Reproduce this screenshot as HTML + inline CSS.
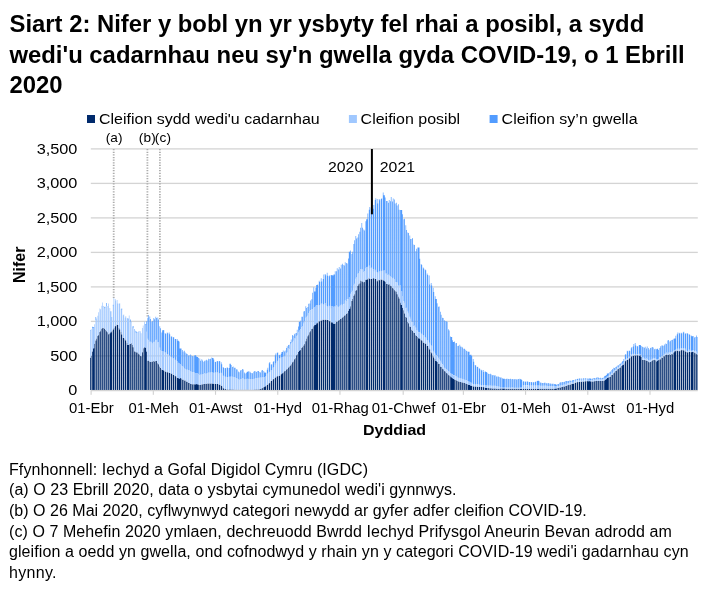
<!DOCTYPE html>
<html lang="cy"><head><meta charset="utf-8"><title>Siart 2</title>
<style>
html,body{margin:0;padding:0;background:#fff;}
body{width:712px;height:590px;overflow:hidden;position:relative;font-family:"Liberation Sans",Arial,sans-serif;color:#000;}
h1{position:absolute;left:9.5px;top:9px;margin:0;font-size:23.85px;line-height:30.5px;font-weight:bold;width:702px;letter-spacing:0;white-space:nowrap;}
svg{position:absolute;left:0;top:0;}
svg text{font-family:"Liberation Sans",Arial,sans-serif;font-size:16px;fill:#000;}
.notes{position:absolute;left:9px;top:459.7px;width:703px;font-size:16px;line-height:20.6px;margin:0;white-space:nowrap;}
.notes p{margin:0;position:absolute;left:0;}
</style></head><body>
<h1>Siart 2: Nifer y bobl yn yr ysbyty fel rhai a posibl, a sydd<br>wedi'u cadarnhau neu sy'n gwella gyda COVID-19, o 1 Ebrill<br>2020</h1>
<svg width="712" height="590" viewBox="0 0 712 590">
<g>
<rect x="90.8" y="355.25" width="607" height="1.3" fill="#d4d4d4"/>
<rect x="90.8" y="320.75" width="607" height="1.3" fill="#d4d4d4"/>
<rect x="90.8" y="286.25" width="607" height="1.3" fill="#d4d4d4"/>
<rect x="90.8" y="251.75" width="607" height="1.3" fill="#d4d4d4"/>
<rect x="90.8" y="217.25" width="607" height="1.3" fill="#d4d4d4"/>
<rect x="90.8" y="182.75" width="607" height="1.3" fill="#d4d4d4"/>
<rect x="90.8" y="148.25" width="607" height="1.3" fill="#d4d4d4"/>

</g>
<g>
<path fill="#002a6c" d="M90.167 357.8v32.2h0.667v-32.2zM90.833 355.7v34.3h0.667v-34.3zM92.167 351.6v38.4h0.667v-38.4zM92.833 348.2v41.8h1.333v-41.8zM94.167 343.8v46.2h0.667v-46.2zM95.500 340.4v49.6h0.667v-49.6zM96.167 338.6v51.4h0.667v-51.4zM97.500 336.1v53.9h0.667v-53.9zM98.167 334.9v55.1h0.667v-55.1zM99.500 332.1v57.9h0.667v-57.9zM100.167 330.6v59.4h0.667v-59.4zM101.500 328.8v61.2h0.667v-61.2zM102.167 328.0v62.0h0.667v-62.0zM103.500 328.0v62.0h0.667v-62.0zM104.167 328.7v61.3h0.667v-61.3zM105.500 330.0v60.0h0.667v-60.0zM106.167 331.2v58.8h0.667v-58.8zM107.500 332.3v57.7h0.667v-57.7zM108.167 334.2v55.8h0.667v-55.8zM109.500 333.6v56.4h0.667v-56.4zM110.167 332.2v57.8h1.333v-57.8zM111.500 330.8v59.2h0.667v-59.2zM112.833 329.4v60.6h0.667v-60.6zM113.500 328.1v61.9h0.667v-61.9zM114.833 326.2v63.8h0.667v-63.8zM115.500 325.6v64.4h0.667v-64.4zM116.833 324.4v65.6h0.667v-65.6zM117.500 324.9v65.1h0.667v-65.1zM118.833 328.0v62.0h0.667v-62.0zM119.500 329.4v60.6h0.667v-60.6zM120.833 332.0v58.0h0.667v-58.0zM121.500 334.5v55.5h0.667v-55.5zM122.833 337.7v52.3h0.667v-52.3zM123.500 338.1v51.9h0.667v-51.9zM124.833 339.3v50.7h0.667v-50.7zM125.500 340.6v49.4h0.667v-49.4zM126.833 342.7v47.3h0.667v-47.3zM127.500 345.0v45.0h1.333v-45.0zM128.833 344.2v45.8h0.667v-45.8zM130.167 344.1v45.9h0.667v-45.9zM130.833 343.2v46.8h0.667v-46.8zM132.167 345.1v44.9h0.667v-44.9zM132.833 347.2v42.8h0.667v-42.8zM134.167 351.2v38.8h0.667v-38.8zM134.833 351.7v38.3h0.667v-38.3zM136.167 352.2v37.8h0.667v-37.8zM136.833 352.6v37.4h0.667v-37.4zM138.167 353.4v36.6h0.667v-36.6zM138.833 354.4v35.6h0.667v-35.6zM140.167 355.8v34.2h0.667v-34.2zM140.833 356.3v33.7h0.667v-33.7zM142.167 352.3v37.7h0.667v-37.7zM142.833 348.2v41.8h0.667v-41.8zM144.167 347.2v42.8h0.667v-42.8zM144.833 347.4v42.6h1.333v-42.6zM146.167 351.4v38.6h0.667v-38.6zM147.500 360.8v29.2h0.667v-29.2zM148.167 360.5v29.5h0.667v-29.5zM149.500 361.6v28.4h0.667v-28.4zM150.167 362.0v28.0h0.667v-28.0zM151.500 361.7v28.3h0.667v-28.3zM152.167 361.4v28.6h0.667v-28.6zM153.500 361.0v29.0h0.667v-29.0zM154.167 361.4v28.6h0.667v-28.6zM155.500 360.9v29.1h0.667v-29.1zM156.167 361.0v29.0h0.667v-29.0zM157.500 363.3v26.7h0.667v-26.7zM158.167 364.2v25.8h0.667v-25.8zM159.500 366.5v23.5h0.667v-23.5zM160.167 367.9v22.1h0.667v-22.1zM161.500 369.5v20.5h0.667v-20.5zM162.167 370.0v20.0h1.333v-20.0zM163.500 370.4v19.6h0.667v-19.6zM164.833 371.2v18.8h0.667v-18.8zM165.500 371.8v18.2h0.667v-18.2zM166.833 372.2v17.8h0.667v-17.8zM167.500 372.3v17.7h0.667v-17.7zM168.833 372.7v17.3h0.667v-17.3zM169.500 372.9v17.1h0.667v-17.1zM170.833 373.6v16.4h0.667v-16.4zM171.500 373.5v16.5h0.667v-16.5zM172.833 374.7v15.3h0.667v-15.3zM173.500 374.9v15.1h0.667v-15.1zM174.833 375.9v14.1h0.667v-14.1zM175.500 376.3v13.7h0.667v-13.7zM176.833 377.4v12.6h0.667v-12.6zM177.500 378.0v12.0h1.333v-12.0zM178.833 378.9v11.1h0.667v-11.1zM179.500 378.1v11.9h1.333v-11.9zM180.833 378.6v11.4h0.667v-11.4zM182.167 379.4v10.6h0.667v-10.6zM182.833 379.8v10.2h0.667v-10.2zM184.167 380.4v9.6h0.667v-9.6zM184.833 380.6v9.4h0.667v-9.4zM186.167 381.5v8.5h0.667v-8.5zM186.833 381.8v8.2h0.667v-8.2zM188.167 382.7v7.3h0.667v-7.3zM188.833 383.1v6.9h0.667v-6.9zM190.167 383.8v6.2h0.667v-6.2zM190.833 383.9v6.1h0.667v-6.1zM192.167 384.2v5.8h0.667v-5.8zM192.833 384.3v5.7h0.667v-5.7zM194.167 384.3v5.7h0.667v-5.7zM194.833 384.2v5.8h1.333v-5.8zM196.167 384.1v5.9h0.667v-5.9zM196.833 384.3v5.7h1.333v-5.7zM198.167 384.5v5.5h0.667v-5.5zM199.500 384.9v5.1h0.667v-5.1zM200.167 384.8v5.2h0.667v-5.2zM201.500 384.5v5.5h0.667v-5.5zM202.167 384.3v5.7h0.667v-5.7zM203.500 384.0v6.0h0.667v-6.0zM204.167 383.9v6.1h0.667v-6.1zM205.500 383.8v6.2h0.667v-6.2zM206.167 383.7v6.3h0.667v-6.3zM207.500 383.6v6.4h0.667v-6.4zM208.167 383.6v6.4h0.667v-6.4zM209.500 383.5v6.5h0.667v-6.5zM210.167 383.5v6.5h0.667v-6.5zM211.500 383.6v6.4h0.667v-6.4zM212.167 383.5v6.5h1.333v-6.5zM213.500 383.7v6.3h0.667v-6.3zM214.833 383.7v6.3h0.667v-6.3zM215.500 383.9v6.1h0.667v-6.1zM216.833 383.9v6.1h0.667v-6.1zM217.500 384.0v6.0h0.667v-6.0zM218.833 384.5v5.5h0.667v-5.5zM219.500 384.6v5.4h0.667v-5.4zM220.833 385.3v4.7h0.667v-4.7zM221.500 386.0v4.0h0.667v-4.0zM222.833 387.5v2.5h0.667v-2.5zM223.500 388.4v1.6h0.667v-1.6zM224.833 389.1v0.9h0.667v-0.9zM225.500 389.2v0.8h0.667v-0.8zM226.833 389.4v0.6h0.667v-0.6zM227.500 389.5v0.5h0.667v-0.5zM228.833 389.5v0.5h0.667v-0.5zM229.500 389.5v0.5h1.333v-0.5zM230.833 389.6v0.4h0.667v-0.4zM232.167 389.6v0.4h0.667v-0.4zM232.833 389.6v0.4h0.667v-0.4zM234.167 389.7v0.3h0.667v-0.3zM234.833 389.7v0.3h0.667v-0.3zM236.167 389.7v0.3h0.667v-0.3zM236.833 389.7v0.3h0.667v-0.3zM238.167 389.7v0.3h0.667v-0.3zM238.833 389.7v0.3h0.667v-0.3zM240.167 389.7v0.3h0.667v-0.3zM240.833 389.7v0.3h0.667v-0.3zM242.167 389.7v0.3h0.667v-0.3zM242.833 389.7v0.3h0.667v-0.3zM244.167 389.7v0.3h0.667v-0.3zM244.833 389.7v0.3h0.667v-0.3zM246.167 389.7v0.3h0.667v-0.3zM246.833 389.7v0.3h1.333v-0.3zM248.167 389.7v0.3h0.667v-0.3zM249.500 389.7v0.3h0.667v-0.3zM250.167 389.7v0.3h0.667v-0.3zM251.500 389.7v0.3h0.667v-0.3zM252.167 389.7v0.3h0.667v-0.3zM253.500 389.7v0.3h0.667v-0.3zM254.167 389.6v0.4h0.667v-0.4zM255.500 389.6v0.4h0.667v-0.4zM256.167 389.5v0.5h0.667v-0.5zM257.500 389.5v0.5h0.667v-0.5zM258.167 389.4v0.6h0.667v-0.6zM259.500 389.2v0.8h0.667v-0.8zM260.167 389.1v0.9h0.667v-0.9zM261.500 388.5v1.5h0.667v-1.5zM262.167 388.1v1.9h0.667v-1.9zM263.500 387.3v2.7h0.667v-2.7zM264.167 386.5v3.5h1.333v-3.5zM265.500 385.9v4.1h0.667v-4.1zM266.833 384.9v5.1h0.667v-5.1zM267.500 384.3v5.7h0.667v-5.7zM268.833 383.3v6.7h0.667v-6.7zM269.500 382.5v7.5h0.667v-7.5zM270.833 381.1v8.9h0.667v-8.9zM271.500 380.6v9.4h0.667v-9.4zM272.833 379.3v10.7h0.667v-10.7zM273.500 378.7v11.3h0.667v-11.3zM274.833 377.7v12.3h0.667v-12.3zM275.500 377.1v12.9h0.667v-12.9zM276.833 376.3v13.7h0.667v-13.7zM277.500 376.2v13.8h0.667v-13.8zM278.833 375.8v14.2h0.667v-14.2zM279.500 375.5v14.5h0.667v-14.5zM280.833 374.3v15.7h0.667v-15.7zM281.500 373.2v16.8h1.333v-16.8zM282.833 372.4v17.6h0.667v-17.6zM284.167 371.2v18.8h0.667v-18.8zM284.833 371.1v18.9h0.667v-18.9zM286.167 369.6v20.4h0.667v-20.4zM286.833 369.1v20.9h0.667v-20.9zM288.167 367.4v22.6h0.667v-22.6zM288.833 366.4v23.6h0.667v-23.6zM290.167 365.5v24.5h0.667v-24.5zM290.833 364.3v25.7h0.667v-25.7zM292.167 362.3v27.7h0.667v-27.7zM292.833 361.5v28.5h0.667v-28.5zM294.167 359.2v30.8h0.667v-30.8zM294.833 358.2v31.8h0.667v-31.8zM296.167 355.2v34.8h0.667v-34.8zM296.833 354.3v35.7h0.667v-35.7zM298.167 352.1v37.9h0.667v-37.9zM298.833 350.4v39.6h1.333v-39.6zM300.167 349.9v40.1h0.667v-40.1zM301.500 348.0v42.0h0.667v-42.0zM302.167 346.7v43.3h0.667v-43.3zM303.500 345.5v44.5h0.667v-44.5zM304.167 344.1v45.9h0.667v-45.9zM305.500 341.3v48.7h0.667v-48.7zM306.167 338.5v51.5h0.667v-51.5zM307.500 336.3v53.7h0.667v-53.7zM308.167 334.6v55.4h0.667v-55.4zM309.500 332.2v57.8h0.667v-57.8zM310.167 330.7v59.3h0.667v-59.3zM311.500 328.9v61.1h0.667v-61.1zM312.167 328.4v61.6h0.667v-61.6zM313.500 326.2v63.8h0.667v-63.8zM314.167 324.7v65.3h1.333v-65.3zM315.500 324.6v65.4h0.667v-65.4zM316.167 323.2v66.8h1.333v-66.8zM317.500 322.2v67.8h0.667v-67.8zM318.833 321.4v68.6h0.667v-68.6zM319.500 320.7v69.3h0.667v-69.3zM320.833 320.7v69.3h0.667v-69.3zM321.500 319.9v70.1h0.667v-70.1zM322.833 319.6v70.4h0.667v-70.4zM323.500 319.8v70.2h0.667v-70.2zM324.833 319.8v70.2h0.667v-70.2zM325.500 319.6v70.4h0.667v-70.4zM326.833 320.0v70.0h0.667v-70.0zM327.500 319.9v70.1h0.667v-70.1zM328.833 320.6v69.4h0.667v-69.4zM329.500 321.3v68.7h0.667v-68.7zM330.833 322.3v67.7h0.667v-67.7zM331.500 322.2v67.8h1.333v-67.8zM332.833 323.3v66.7h0.667v-66.7zM333.500 323.8v66.2h1.333v-66.2zM334.833 323.4v66.6h0.667v-66.6zM336.167 321.6v68.4h0.667v-68.4zM336.833 321.7v68.3h0.667v-68.3zM338.167 320.4v69.6h0.667v-69.6zM338.833 320.0v70.0h0.667v-70.0zM340.167 319.1v70.9h0.667v-70.9zM340.833 318.4v71.6h0.667v-71.6zM342.167 317.6v72.4h0.667v-72.4zM342.833 316.7v73.3h0.667v-73.3zM344.167 315.5v74.5h0.667v-74.5zM344.833 315.3v74.7h0.667v-74.7zM346.167 313.8v76.2h0.667v-76.2zM346.833 313.2v76.8h0.667v-76.8zM348.167 310.8v79.2h0.667v-79.2zM348.833 308.6v81.4h1.333v-81.4zM350.167 306.3v83.7h0.667v-83.7zM351.500 301.0v89.0h0.667v-89.0zM352.167 299.1v90.9h0.667v-90.9zM353.500 295.7v94.3h0.667v-94.3zM354.167 294.2v95.8h0.667v-95.8zM355.500 290.8v99.2h0.667v-99.2zM356.167 290.1v99.9h0.667v-99.9zM357.500 286.0v104.0h0.667v-104.0zM358.167 284.3v105.7h0.667v-105.7zM359.500 283.4v106.6h0.667v-106.6zM360.167 280.6v109.4h0.667v-109.4zM361.500 281.3v108.7h0.667v-108.7zM362.167 281.6v108.4h0.667v-108.4zM363.500 282.2v107.8h0.667v-107.8zM364.167 281.8v108.2h0.667v-108.2zM365.500 279.8v110.2h0.667v-110.2zM366.167 279.4v110.6h1.333v-110.6zM367.500 278.6v111.4h0.667v-111.4zM368.833 277.8v112.2h0.667v-112.2zM369.500 279.0v111.0h0.667v-111.0zM370.833 278.9v111.1h0.667v-111.1zM371.500 278.7v111.3h0.667v-111.3zM372.833 278.2v111.8h0.667v-111.8zM373.500 278.2v111.8h0.667v-111.8zM374.833 278.7v111.3h0.667v-111.3zM375.500 279.0v111.0h0.667v-111.0zM376.833 281.2v108.8h0.667v-108.8zM377.500 279.9v110.1h0.667v-110.1zM378.833 279.5v110.5h0.667v-110.5zM379.500 280.2v109.8h0.667v-109.8zM380.833 279.0v111.0h0.667v-111.0zM381.500 279.9v110.1h0.667v-110.1zM382.833 279.6v110.4h0.667v-110.4zM383.500 280.6v109.4h1.333v-109.4zM384.833 281.7v108.3h0.667v-108.3zM386.167 283.7v106.3h0.667v-106.3zM386.833 284.0v106.0h0.667v-106.0zM388.167 284.5v105.5h0.667v-105.5zM388.833 284.3v105.7h0.667v-105.7zM390.167 285.6v104.4h0.667v-104.4zM390.833 286.3v103.7h0.667v-103.7zM392.167 287.8v102.2h0.667v-102.2zM392.833 288.4v101.6h0.667v-101.6zM394.167 289.7v100.3h0.667v-100.3zM394.833 291.2v98.8h0.667v-98.8zM396.167 291.6v98.4h0.667v-98.4zM396.833 294.2v95.8h0.667v-95.8zM398.167 296.4v93.6h0.667v-93.6zM398.833 298.6v91.4h0.667v-91.4zM400.167 302.5v87.5h0.667v-87.5zM400.833 304.7v85.3h1.333v-85.3zM402.167 307.8v82.2h0.667v-82.2zM403.500 310.3v79.7h0.667v-79.7zM404.167 313.4v76.6h0.667v-76.6zM405.500 316.9v73.1h0.667v-73.1zM406.167 317.4v72.6h0.667v-72.6zM407.500 322.1v67.9h0.667v-67.9zM408.167 323.2v66.8h0.667v-66.8zM409.500 326.6v63.4h0.667v-63.4zM410.167 326.8v63.2h0.667v-63.2zM411.500 329.8v60.2h0.667v-60.2zM412.167 330.8v59.2h0.667v-59.2zM413.500 332.5v57.5h0.667v-57.5zM414.167 333.0v57.0h0.667v-57.0zM415.500 335.2v54.8h0.667v-54.8zM416.167 336.1v53.9h0.667v-53.9zM417.500 337.0v53.0h0.667v-53.0zM418.167 338.3v51.7h1.333v-51.7zM419.500 338.5v51.5h0.667v-51.5zM420.833 339.8v50.2h0.667v-50.2zM421.500 340.4v49.6h0.667v-49.6zM422.833 341.3v48.7h0.667v-48.7zM423.500 342.9v47.1h0.667v-47.1zM424.833 343.3v46.7h0.667v-46.7zM425.500 343.8v46.2h0.667v-46.2zM426.833 345.9v44.1h0.667v-44.1zM427.500 346.1v43.9h0.667v-43.9zM428.833 348.3v41.7h0.667v-41.7zM429.500 349.6v40.4h0.667v-40.4zM430.833 351.9v38.1h0.667v-38.1zM431.500 353.3v36.7h0.667v-36.7zM432.833 355.8v34.2h0.667v-34.2zM433.500 357.4v32.6h0.667v-32.6zM434.833 359.1v30.9h0.667v-30.9zM435.500 361.0v29.0h1.333v-29.0zM436.833 362.0v28.0h0.667v-28.0zM438.167 363.4v26.6h0.667v-26.6zM438.833 364.0v26.0h0.667v-26.0zM440.167 366.4v23.6h0.667v-23.6zM440.833 367.1v22.9h0.667v-22.9zM442.167 368.6v21.4h0.667v-21.4zM442.833 369.3v20.7h0.667v-20.7zM444.167 370.9v19.1h0.667v-19.1zM444.833 371.5v18.5h0.667v-18.5zM446.167 373.1v16.9h0.667v-16.9zM446.833 373.6v16.4h0.667v-16.4zM448.167 374.7v15.3h0.667v-15.3zM448.833 375.4v14.6h0.667v-14.6zM450.167 376.2v13.8h0.667v-13.8zM450.833 377.3v12.7h1.333v-12.7zM452.167 378.1v11.9h0.667v-11.9zM452.833 378.9v11.1h1.333v-11.1zM454.167 379.5v10.5h0.667v-10.5zM455.500 379.9v10.1h0.667v-10.1zM456.167 380.4v9.6h0.667v-9.6zM457.500 381.1v8.9h0.667v-8.9zM458.167 381.4v8.6h0.667v-8.6zM459.500 381.7v8.3h0.667v-8.3zM460.167 382.0v8.0h0.667v-8.0zM461.500 382.3v7.7h0.667v-7.7zM462.167 382.5v7.5h0.667v-7.5zM463.500 382.8v7.2h0.667v-7.2zM464.167 383.0v7.0h0.667v-7.0zM465.500 383.5v6.5h0.667v-6.5zM466.167 383.8v6.2h0.667v-6.2zM467.500 384.3v5.7h0.667v-5.7zM468.167 384.7v5.3h1.333v-5.3zM469.500 385.1v4.9h0.667v-4.9zM470.167 385.5v4.5h1.333v-4.5zM471.500 385.8v4.2h0.667v-4.2zM472.833 386.3v3.7h0.667v-3.7zM473.500 386.4v3.6h0.667v-3.6zM474.833 386.5v3.5h0.667v-3.5zM475.500 386.6v3.4h0.667v-3.4zM476.833 386.7v3.3h0.667v-3.3zM477.500 386.7v3.3h0.667v-3.3zM478.833 386.8v3.2h0.667v-3.2zM479.500 386.8v3.2h0.667v-3.2zM480.833 386.9v3.1h0.667v-3.1zM481.500 387.0v3.0h0.667v-3.0zM482.833 387.1v2.9h0.667v-2.9zM483.500 387.2v2.8h0.667v-2.8zM484.833 387.5v2.5h0.667v-2.5zM485.500 387.7v2.3h1.333v-2.3zM486.833 387.9v2.1h0.667v-2.1zM488.167 388.1v1.9h0.667v-1.9zM488.833 388.2v1.8h0.667v-1.8zM490.167 388.3v1.7h0.667v-1.7zM490.833 388.3v1.7h0.667v-1.7zM492.167 388.4v1.6h0.667v-1.6zM492.833 388.5v1.5h0.667v-1.5zM494.167 388.6v1.4h0.667v-1.4zM494.833 388.6v1.4h0.667v-1.4zM496.167 388.7v1.3h0.667v-1.3zM496.833 388.8v1.2h0.667v-1.2zM498.167 388.8v1.2h0.667v-1.2zM498.833 388.7v1.3h0.667v-1.3zM500.167 388.6v1.4h0.667v-1.4zM500.833 388.6v1.4h0.667v-1.4zM502.167 388.6v1.4h0.667v-1.4zM502.833 388.6v1.4h1.333v-1.4zM504.167 388.6v1.4h0.667v-1.4zM505.500 388.7v1.3h0.667v-1.3zM506.167 388.7v1.3h0.667v-1.3zM507.500 388.7v1.3h0.667v-1.3zM508.167 388.7v1.3h0.667v-1.3zM509.500 388.7v1.3h0.667v-1.3zM510.167 388.7v1.3h0.667v-1.3zM511.500 388.7v1.3h0.667v-1.3zM512.167 388.7v1.3h0.667v-1.3zM513.500 388.7v1.3h0.667v-1.3zM514.167 388.7v1.3h0.667v-1.3zM515.500 388.8v1.2h0.667v-1.2zM516.167 388.7v1.3h0.667v-1.3zM517.500 388.8v1.2h0.667v-1.2zM518.167 388.8v1.2h0.667v-1.2zM519.500 388.8v1.2h0.667v-1.2zM520.167 388.8v1.2h1.333v-1.2zM521.500 388.8v1.2h0.667v-1.2zM522.833 388.8v1.2h0.667v-1.2zM523.500 388.8v1.2h0.667v-1.2zM524.833 388.8v1.2h0.667v-1.2zM525.500 388.8v1.2h0.667v-1.2zM526.833 388.8v1.2h0.667v-1.2zM527.500 388.8v1.2h0.667v-1.2zM528.833 388.8v1.2h0.667v-1.2zM529.500 388.8v1.2h0.667v-1.2zM530.833 388.8v1.2h0.667v-1.2zM531.500 388.8v1.2h0.667v-1.2zM532.833 388.8v1.2h0.667v-1.2zM533.500 388.8v1.2h0.667v-1.2zM534.833 388.8v1.2h0.667v-1.2zM535.500 388.8v1.2h0.667v-1.2zM536.833 388.8v1.2h0.667v-1.2zM537.500 388.8v1.2h1.333v-1.2zM538.833 388.8v1.2h0.667v-1.2zM540.167 388.8v1.2h0.667v-1.2zM540.833 388.8v1.2h0.667v-1.2zM542.167 388.8v1.2h0.667v-1.2zM542.833 388.8v1.2h0.667v-1.2zM544.167 388.8v1.2h0.667v-1.2zM544.833 388.8v1.2h0.667v-1.2zM546.167 388.8v1.2h0.667v-1.2zM546.833 388.8v1.2h0.667v-1.2zM548.167 388.8v1.2h0.667v-1.2zM548.833 388.8v1.2h0.667v-1.2zM550.167 388.8v1.2h0.667v-1.2zM550.833 388.8v1.2h0.667v-1.2zM552.167 388.8v1.2h0.667v-1.2zM552.833 388.8v1.2h0.667v-1.2zM554.167 388.7v1.3h0.667v-1.3zM554.833 388.5v1.5h1.333v-1.5zM556.167 388.4v1.6h0.667v-1.6zM557.500 388.1v1.9h0.667v-1.9zM558.167 387.9v2.1h0.667v-2.1zM559.500 387.6v2.4h0.667v-2.4zM560.167 387.5v2.5h0.667v-2.5zM561.500 387.1v2.9h0.667v-2.9zM562.167 386.9v3.1h0.667v-3.1zM563.500 386.6v3.4h0.667v-3.4zM564.167 386.4v3.6h0.667v-3.6zM565.500 385.9v4.1h0.667v-4.1zM566.167 385.7v4.3h0.667v-4.3zM567.500 385.3v4.7h0.667v-4.7zM568.167 385.1v4.9h0.667v-4.9zM569.500 384.7v5.3h0.667v-5.3zM570.167 384.4v5.6h0.667v-5.6zM571.500 384.1v5.9h0.667v-5.9zM572.167 383.7v6.3h1.333v-6.3zM573.500 383.4v6.6h0.667v-6.6zM574.833 382.8v7.2h0.667v-7.2zM575.500 382.6v7.4h0.667v-7.4zM576.833 382.2v7.8h0.667v-7.8zM577.500 382.0v8.0h0.667v-8.0zM578.833 381.9v8.1h0.667v-8.1zM579.500 381.8v8.2h0.667v-8.2zM580.833 381.8v8.2h0.667v-8.2zM581.500 381.5v8.5h0.667v-8.5zM582.833 381.4v8.6h0.667v-8.6zM583.500 381.5v8.5h0.667v-8.5zM584.833 381.2v8.8h0.667v-8.8zM585.500 381.2v8.8h0.667v-8.8zM586.833 380.9v9.1h0.667v-9.1zM587.500 381.2v8.8h1.333v-8.8zM588.833 381.1v8.9h0.667v-8.9zM589.500 381.3v8.7h1.333v-8.7zM590.833 381.4v8.6h0.667v-8.6zM592.167 381.5v8.5h0.667v-8.5zM592.833 381.5v8.5h0.667v-8.5zM594.167 381.2v8.8h0.667v-8.8zM594.833 381.1v8.9h0.667v-8.9zM596.167 381.0v9.0h0.667v-9.0zM596.833 380.9v9.1h0.667v-9.1zM598.167 381.1v8.9h0.667v-8.9zM598.833 381.0v9.0h0.667v-9.0zM600.167 381.0v9.0h0.667v-9.0zM600.833 380.9v9.1h0.667v-9.1zM602.167 380.9v9.1h0.667v-9.1zM602.833 380.7v9.3h0.667v-9.3zM604.167 380.4v9.6h0.667v-9.6zM604.833 379.5v10.5h1.333v-10.5zM606.167 378.8v11.2h0.667v-11.2zM606.833 377.9v12.1h1.333v-12.1zM608.167 377.2v12.8h0.667v-12.8zM609.500 376.9v13.1h0.667v-13.1zM610.167 376.4v13.6h0.667v-13.6zM611.500 375.1v14.9h0.667v-14.9zM612.167 374.8v15.2h0.667v-15.2zM613.500 373.2v16.8h0.667v-16.8zM614.167 372.3v17.7h0.667v-17.7zM615.500 371.1v18.9h0.667v-18.9zM616.167 370.6v19.4h0.667v-19.4zM617.500 369.3v20.7h0.667v-20.7zM618.167 369.0v21.0h0.667v-21.0zM619.500 368.0v22.0h0.667v-22.0zM620.167 367.2v22.8h0.667v-22.8zM621.500 366.0v24.0h0.667v-24.0zM622.167 365.1v24.9h1.333v-24.9zM623.500 363.5v26.5h0.667v-26.5zM624.833 361.2v28.8h0.667v-28.8zM625.500 360.6v29.4h0.667v-29.4zM626.833 360.1v29.9h0.667v-29.9zM627.500 359.4v30.6h0.667v-30.6zM628.833 358.5v31.5h0.667v-31.5zM629.500 357.9v32.1h0.667v-32.1zM630.833 356.6v33.4h0.667v-33.4zM631.500 355.9v34.1h0.667v-34.1zM632.833 356.1v33.9h0.667v-33.9zM633.500 355.2v34.8h0.667v-34.8zM634.833 355.2v34.8h0.667v-34.8zM635.500 355.6v34.4h0.667v-34.4zM636.833 355.0v35.0h0.667v-35.0zM637.500 355.4v34.6h0.667v-34.6zM638.833 355.7v34.3h0.667v-34.3zM639.500 355.2v34.8h1.333v-34.8zM640.833 357.0v33.0h0.667v-33.0zM642.167 359.8v30.2h0.667v-30.2zM642.833 359.9v30.1h0.667v-30.1zM644.167 360.1v29.9h0.667v-29.9zM644.833 360.3v29.7h0.667v-29.7zM646.167 360.5v29.5h0.667v-29.5zM646.833 361.0v29.0h0.667v-29.0zM648.167 361.4v28.6h0.667v-28.6zM648.833 362.3v27.7h0.667v-27.7zM650.167 362.0v28.0h0.667v-28.0zM650.833 361.3v28.7h0.667v-28.7zM652.167 360.4v29.6h0.667v-29.6zM652.833 359.9v30.1h0.667v-30.1zM654.167 359.7v30.3h0.667v-30.3zM654.833 360.2v29.8h0.667v-29.8zM656.167 361.5v28.5h0.667v-28.5zM656.833 360.5v29.5h1.333v-29.5zM658.167 360.1v29.9h0.667v-29.9zM659.500 359.6v30.4h0.667v-30.4zM660.167 359.2v30.8h0.667v-30.8zM661.500 357.5v32.5h0.667v-32.5zM662.167 357.7v32.3h0.667v-32.3zM663.500 356.2v33.8h0.667v-33.8zM664.167 356.3v33.7h0.667v-33.7zM665.500 354.9v35.1h0.667v-35.1zM666.167 354.5v35.5h0.667v-35.5zM667.500 354.8v35.2h0.667v-35.2zM668.167 354.7v35.3h0.667v-35.3zM669.500 354.2v35.8h0.667v-35.8zM670.167 354.9v35.1h0.667v-35.1zM671.500 353.9v36.1h0.667v-36.1zM672.167 354.2v35.8h0.667v-35.8zM673.500 352.6v37.4h0.667v-37.4zM674.167 351.2v38.8h1.333v-38.8zM675.500 350.4v39.6h0.667v-39.6zM676.833 350.4v39.6h0.667v-39.6zM677.500 350.7v39.3h0.667v-39.3zM678.833 351.2v38.8h0.667v-38.8zM679.500 350.7v39.3h0.667v-39.3zM680.833 350.3v39.7h0.667v-39.7zM681.500 349.8v40.2h0.667v-40.2zM682.833 350.1v39.9h0.667v-39.9zM683.500 350.5v39.5h0.667v-39.5zM684.833 350.4v39.6h0.667v-39.6zM685.500 351.8v38.2h0.667v-38.2zM686.833 352.1v37.9h0.667v-37.9zM687.500 352.6v37.4h0.667v-37.4zM688.833 351.7v38.3h0.667v-38.3zM689.500 352.0v38.0h0.667v-38.0zM690.833 352.2v37.8h0.667v-37.8zM691.500 351.8v38.2h1.333v-38.2zM692.833 352.1v37.9h0.667v-37.9zM694.167 352.6v37.4h0.667v-37.4zM694.833 353.3v36.7h0.667v-36.7zM696.167 353.8v36.2h0.667v-36.2zM696.833 354.5v35.5h0.667v-35.5z"/>
<path fill="#a0c8ff" d="M90.167 331.0v26.8h0.667v-26.8zM90.833 329.3v26.4h0.667v-26.4zM92.167 328.5v23.1h0.667v-23.1zM92.833 327.8v20.4h1.333v-20.4zM94.167 324.3v19.6h0.667v-19.6zM95.500 320.1v20.4h0.667v-20.4zM96.167 318.6v20.0h0.667v-20.0zM97.500 315.7v20.4h0.667v-20.4zM98.167 312.3v22.7h0.667v-22.7zM99.500 308.6v23.6h0.667v-23.6zM100.167 309.3v21.3h0.667v-21.3zM101.500 305.7v23.1h0.667v-23.1zM102.167 302.5v25.5h0.667v-25.5zM103.500 306.4v21.6h0.667v-21.6zM104.167 308.4v20.3h0.667v-20.3zM105.500 307.5v22.6h0.667v-22.6zM106.167 306.2v25.0h0.667v-25.0zM107.500 305.9v26.4h0.667v-26.4zM108.167 303.6v30.7h0.667v-30.7zM109.500 307.9v25.7h0.667v-25.7zM110.167 311.2v21.0h1.333v-21.0zM111.500 316.9v13.9h0.667v-13.9zM112.833 306.2v23.2h0.667v-23.2zM113.500 298.1v30.0h0.667v-30.0zM114.833 299.2v27.0h0.667v-27.0zM115.500 300.5v25.1h0.667v-25.1zM116.833 299.9v24.5h0.667v-24.5zM117.500 303.4v21.5h0.667v-21.5zM118.833 304.5v23.5h0.667v-23.5zM119.500 303.8v25.6h0.667v-25.6zM120.833 309.1v22.9h0.667v-22.9zM121.500 310.1v24.4h0.667v-24.4zM122.833 315.2v22.5h0.667v-22.5zM123.500 314.4v23.7h0.667v-23.7zM124.833 317.8v21.5h0.667v-21.5zM125.500 317.4v23.2h0.667v-23.2zM126.833 319.5v23.2h0.667v-23.2zM127.500 318.5v26.5h1.333v-26.5zM128.833 315.4v28.8h0.667v-28.8zM130.167 321.8v22.3h0.667v-22.3zM130.833 322.2v21.0h0.667v-21.0zM132.167 326.4v18.7h0.667v-18.7zM132.833 328.1v19.1h0.667v-19.1zM134.167 330.4v20.8h0.667v-20.8zM134.833 332.8v18.9h0.667v-18.9zM136.167 333.2v19.1h0.667v-19.1zM136.833 332.3v20.3h0.667v-20.3zM138.167 331.6v21.8h0.667v-21.8zM138.833 331.1v23.3h0.667v-23.3zM140.167 331.2v24.6h0.667v-24.6zM140.833 333.3v23.0h0.667v-23.0zM142.167 328.0v24.3h0.667v-24.3zM142.833 325.5v22.7h0.667v-22.7zM144.167 321.6v25.7h0.667v-25.7zM144.833 324.5v22.9h1.333v-22.9zM146.167 331.7v19.7h0.667v-19.7zM147.500 338.7v22.2h0.667v-22.2zM148.167 339.8v20.7h0.667v-20.7zM149.500 341.7v19.9h0.667v-19.9zM150.167 341.8v20.2h0.667v-20.2zM151.500 342.7v19.0h0.667v-19.0zM152.167 343.4v18.1h0.667v-18.1zM153.500 342.1v18.8h0.667v-18.8zM154.167 341.7v19.7h0.667v-19.7zM155.500 339.9v21.0h0.667v-21.0zM156.167 339.8v21.2h0.667v-21.2zM157.500 342.3v21.0h0.667v-21.0zM158.167 341.9v22.3h0.667v-22.3zM159.500 347.4v19.1h0.667v-19.1zM160.167 349.9v17.9h0.667v-17.9zM161.500 351.1v18.4h0.667v-18.4zM162.167 351.2v18.8h1.333v-18.8zM163.500 351.7v18.7h0.667v-18.7zM164.833 352.6v18.6h0.667v-18.6zM165.500 352.5v19.3h0.667v-19.3zM166.833 354.0v18.1h0.667v-18.1zM167.500 354.3v18.0h0.667v-18.0zM168.833 355.2v17.5h0.667v-17.5zM169.500 355.9v17.0h0.667v-17.0zM170.833 356.8v16.9h0.667v-16.9zM171.500 357.7v15.8h0.667v-15.8zM172.833 358.7v16.0h0.667v-16.0zM173.500 357.9v17.1h0.667v-17.1zM174.833 360.1v15.8h0.667v-15.8zM175.500 359.8v16.5h0.667v-16.5zM176.833 360.8v16.6h0.667v-16.6zM177.500 362.6v15.3h1.333v-15.3zM178.833 363.1v15.8h0.667v-15.8zM179.500 363.9v14.2h1.333v-14.2zM180.833 365.4v13.3h0.667v-13.3zM182.167 366.1v13.3h0.667v-13.3zM182.833 366.7v13.1h0.667v-13.1zM184.167 368.1v12.2h0.667v-12.2zM184.833 368.9v11.7h0.667v-11.7zM186.167 369.7v11.8h0.667v-11.8zM186.833 369.4v12.4h0.667v-12.4zM188.167 370.0v12.7h0.667v-12.7zM188.833 370.3v12.8h0.667v-12.8zM190.167 371.3v12.6h0.667v-12.6zM190.833 371.3v12.6h0.667v-12.6zM192.167 372.0v12.2h0.667v-12.2zM192.833 372.4v11.9h0.667v-11.9zM194.167 372.4v11.9h0.667v-11.9zM194.833 372.9v11.3h1.333v-11.3zM196.167 373.1v10.9h0.667v-10.9zM196.833 373.2v11.0h1.333v-11.0zM198.167 374.0v10.5h0.667v-10.5zM199.500 374.9v10.0h0.667v-10.0zM200.167 374.5v10.4h0.667v-10.4zM201.500 374.4v10.1h0.667v-10.1zM202.167 374.2v10.1h0.667v-10.1zM203.500 373.9v10.1h0.667v-10.1zM204.167 373.4v10.6h0.667v-10.6zM205.500 373.3v10.4h0.667v-10.4zM206.167 373.5v10.2h0.667v-10.2zM207.500 373.1v10.5h0.667v-10.5zM208.167 372.5v11.1h0.667v-11.1zM209.500 372.4v11.1h0.667v-11.1zM210.167 372.6v11.0h0.667v-11.0zM211.500 372.1v11.4h0.667v-11.4zM212.167 372.4v11.1h1.333v-11.1zM213.500 373.1v10.6h0.667v-10.6zM214.833 372.6v11.1h0.667v-11.1zM215.500 372.6v11.3h0.667v-11.3zM216.833 372.4v11.6h0.667v-11.6zM217.500 372.4v11.6h0.667v-11.6zM218.833 373.1v11.3h0.667v-11.3zM219.500 372.9v11.8h0.667v-11.8zM220.833 372.9v12.5h0.667v-12.5zM221.500 373.5v12.4h0.667v-12.4zM222.833 375.3v12.2h0.667v-12.2zM223.500 376.3v12.2h0.667v-12.2zM224.833 376.6v12.5h0.667v-12.5zM225.500 377.0v12.2h0.667v-12.2zM226.833 377.0v12.5h0.667v-12.5zM227.500 377.0v12.5h0.667v-12.5zM228.833 376.8v12.7h0.667v-12.7zM229.500 376.7v12.9h1.333v-12.9zM230.833 376.6v13.0h0.667v-13.0zM232.167 376.9v12.8h0.667v-12.8zM232.833 377.1v12.6h0.667v-12.6zM234.167 377.1v12.5h0.667v-12.5zM234.833 377.6v12.1h0.667v-12.1zM236.167 378.1v11.6h0.667v-11.6zM236.833 378.4v11.2h0.667v-11.2zM238.167 379.3v10.4h0.667v-10.4zM238.833 379.7v9.9h0.667v-9.9zM240.167 379.3v10.3h0.667v-10.3zM240.833 378.9v10.8h0.667v-10.8zM242.167 378.3v11.4h0.667v-11.4zM242.833 378.6v11.0h0.667v-11.0zM244.167 379.6v10.1h0.667v-10.1zM244.833 379.7v10.0h0.667v-10.0zM246.167 379.3v10.3h0.667v-10.3zM246.833 378.7v10.9h1.333v-10.9zM248.167 378.9v10.7h0.667v-10.7zM249.500 378.9v10.7h0.667v-10.7zM250.167 379.2v10.5h0.667v-10.5zM251.500 379.1v10.5h0.667v-10.5zM252.167 379.1v10.6h0.667v-10.6zM253.500 378.9v10.8h0.667v-10.8zM254.167 378.8v10.9h0.667v-10.9zM255.500 378.1v11.5h0.667v-11.5zM256.167 378.3v11.2h0.667v-11.2zM257.500 378.0v11.5h0.667v-11.5zM258.167 377.8v11.6h0.667v-11.6zM259.500 377.8v11.3h0.667v-11.3zM260.167 377.6v11.4h0.667v-11.4zM261.500 377.4v11.1h0.667v-11.1zM262.167 377.3v10.8h0.667v-10.8zM263.500 377.3v10.0h0.667v-10.0zM264.167 377.1v9.4h1.333v-9.4zM265.500 376.0v9.9h0.667v-9.9zM266.833 373.9v11.0h0.667v-11.0zM267.500 373.2v11.1h0.667v-11.1zM268.833 372.0v11.2h0.667v-11.2zM269.500 371.6v10.8h0.667v-10.8zM270.833 370.3v10.8h0.667v-10.8zM271.500 370.2v10.4h0.667v-10.4zM272.833 368.2v11.1h0.667v-11.1zM273.500 367.0v11.6h0.667v-11.6zM274.833 365.2v12.6h0.667v-12.6zM275.500 363.3v13.9h0.667v-13.9zM276.833 361.5v14.8h0.667v-14.8zM277.500 360.7v15.4h0.667v-15.4zM278.833 358.6v17.2h0.667v-17.2zM279.500 358.2v17.3h0.667v-17.3zM280.833 358.5v15.8h0.667v-15.8zM281.500 357.0v16.2h1.333v-16.2zM282.833 356.5v15.9h0.667v-15.9zM284.167 356.1v15.1h0.667v-15.1zM284.833 355.4v15.7h0.667v-15.7zM286.167 353.1v16.5h0.667v-16.5zM286.833 352.2v16.9h0.667v-16.9zM288.167 348.3v19.1h0.667v-19.1zM288.833 348.9v17.5h0.667v-17.5zM290.167 344.5v21.0h0.667v-21.0zM290.833 342.9v21.3h0.667v-21.3zM292.167 342.0v20.3h0.667v-20.3zM292.833 340.8v20.7h0.667v-20.7zM294.167 338.3v20.9h0.667v-20.9zM294.833 338.4v19.7h0.667v-19.7zM296.167 335.8v19.4h0.667v-19.4zM296.833 335.3v19.0h0.667v-19.0zM298.167 332.2v19.9h0.667v-19.9zM298.833 330.4v20.0h1.333v-20.0zM300.167 329.4v20.5h0.667v-20.5zM301.500 326.8v21.2h0.667v-21.2zM302.167 325.8v20.9h0.667v-20.9zM303.500 323.6v21.9h0.667v-21.9zM304.167 321.3v22.8h0.667v-22.8zM305.500 317.7v23.6h0.667v-23.6zM306.167 316.7v21.9h0.667v-21.9zM307.500 315.8v20.5h0.667v-20.5zM308.167 313.0v21.6h0.667v-21.6zM309.500 311.2v21.0h0.667v-21.0zM310.167 310.2v20.5h0.667v-20.5zM311.500 309.2v19.7h0.667v-19.7zM312.167 308.8v19.5h0.667v-19.5zM313.500 307.8v18.4h0.667v-18.4zM314.167 307.1v17.6h1.333v-17.6zM315.500 305.9v18.8h0.667v-18.8zM316.167 305.1v18.1h1.333v-18.1zM317.500 305.5v16.7h0.667v-16.7zM318.833 305.3v16.2h0.667v-16.2zM319.500 305.3v15.4h0.667v-15.4zM320.833 304.1v16.6h0.667v-16.6zM321.500 303.2v16.7h0.667v-16.7zM322.833 304.6v15.0h0.667v-15.0zM323.500 304.6v15.2h0.667v-15.2zM324.833 303.0v16.8h0.667v-16.8zM325.500 305.5v14.1h0.667v-14.1zM326.833 306.0v14.1h0.667v-14.1zM327.500 307.4v12.4h0.667v-12.4zM328.833 305.7v14.9h0.667v-14.9zM329.500 306.1v15.2h0.667v-15.2zM330.833 308.6v13.7h0.667v-13.7zM331.500 306.1v16.1h1.333v-16.1zM332.833 307.1v16.2h0.667v-16.2zM333.500 306.6v17.1h1.333v-17.1zM334.833 306.4v16.9h0.667v-16.9zM336.167 305.3v16.4h0.667v-16.4zM336.833 306.5v15.1h0.667v-15.1zM338.167 307.0v13.4h0.667v-13.4zM338.833 306.2v13.8h0.667v-13.8zM340.167 305.5v13.5h0.667v-13.5zM340.833 304.4v14.0h0.667v-14.0zM342.167 305.5v12.1h0.667v-12.1zM342.833 304.2v12.6h0.667v-12.6zM344.167 303.7v11.9h0.667v-11.9zM344.833 300.7v14.6h0.667v-14.6zM346.167 301.3v12.5h0.667v-12.5zM346.833 299.2v14.0h0.667v-14.0zM348.167 299.3v11.5h0.667v-11.5zM348.833 297.3v11.4h1.333v-11.4zM350.167 293.7v12.5h0.667v-12.5zM351.500 292.0v9.1h0.667v-9.1zM352.167 290.7v8.4h0.667v-8.4zM353.500 285.6v10.1h0.667v-10.1zM354.167 283.7v10.4h0.667v-10.4zM355.500 278.8v12.0h0.667v-12.0zM356.167 277.2v12.8h0.667v-12.8zM357.500 273.7v12.3h0.667v-12.3zM358.167 273.3v10.9h0.667v-10.9zM359.500 271.2v12.1h0.667v-12.1zM360.167 269.0v11.6h0.667v-11.6zM361.500 269.2v12.1h0.667v-12.1zM362.167 269.4v12.2h0.667v-12.2zM363.500 272.1v10.1h0.667v-10.1zM364.167 271.0v10.8h0.667v-10.8zM365.500 268.2v11.6h0.667v-11.6zM366.167 266.9v12.5h1.333v-12.5zM367.500 266.7v11.9h0.667v-11.9zM368.833 265.5v12.3h0.667v-12.3zM369.500 268.4v10.6h0.667v-10.6zM370.833 267.9v11.0h0.667v-11.0zM371.500 267.4v11.4h0.667v-11.4zM372.833 268.9v9.3h0.667v-9.3zM373.500 271.4v6.8h0.667v-6.8zM374.833 269.8v8.9h0.667v-8.9zM375.500 271.8v7.2h0.667v-7.2zM376.833 272.1v9.1h0.667v-9.1zM377.500 273.4v6.5h0.667v-6.5zM378.833 272.2v7.4h0.667v-7.4zM379.500 271.1v9.1h0.667v-9.1zM380.833 271.6v7.5h0.667v-7.5zM381.500 270.8v9.1h0.667v-9.1zM382.833 271.0v8.6h0.667v-8.6zM383.500 270.2v10.5h1.333v-10.5zM384.833 273.6v8.1h0.667v-8.1zM386.167 273.6v10.1h0.667v-10.1zM386.833 274.9v9.1h0.667v-9.1zM388.167 274.5v10.0h0.667v-10.0zM388.833 275.6v8.7h0.667v-8.7zM390.167 276.3v9.3h0.667v-9.3zM390.833 276.9v9.4h0.667v-9.4zM392.167 278.6v9.2h0.667v-9.2zM392.833 277.8v10.5h0.667v-10.5zM394.167 279.2v10.5h0.667v-10.5zM394.833 281.9v9.3h0.667v-9.3zM396.167 282.1v9.5h0.667v-9.5zM396.833 282.4v11.8h0.667v-11.8zM398.167 285.4v11.0h0.667v-11.0zM398.833 285.7v12.9h0.667v-12.9zM400.167 285.2v17.3h0.667v-17.3zM400.833 291.2v13.5h1.333v-13.5zM402.167 296.2v11.7h0.667v-11.7zM403.500 301.4v8.9h0.667v-8.9zM404.167 302.6v10.7h0.667v-10.7zM405.500 308.3v8.6h0.667v-8.6zM406.167 307.7v9.7h0.667v-9.7zM407.500 311.6v10.5h0.667v-10.5zM408.167 313.6v9.7h0.667v-9.7zM409.500 316.7v9.8h0.667v-9.8zM410.167 318.8v7.9h0.667v-7.9zM411.500 321.7v8.1h0.667v-8.1zM412.167 322.0v8.7h0.667v-8.7zM413.500 325.9v6.5h0.667v-6.5zM414.167 325.5v7.5h0.667v-7.5zM415.500 327.6v7.6h0.667v-7.6zM416.167 330.0v6.1h0.667v-6.1zM417.500 330.4v6.7h0.667v-6.7zM418.167 332.4v5.9h1.333v-5.9zM419.500 332.3v6.2h0.667v-6.2zM420.833 333.4v6.4h0.667v-6.4zM421.500 334.0v6.4h0.667v-6.4zM422.833 335.2v6.1h0.667v-6.1zM423.500 335.4v7.5h0.667v-7.5zM424.833 337.0v6.3h0.667v-6.3zM425.500 338.3v5.5h0.667v-5.5zM426.833 340.3v5.6h0.667v-5.6zM427.500 340.4v5.7h0.667v-5.7zM428.833 342.4v5.9h0.667v-5.9zM429.500 343.8v5.8h0.667v-5.8zM430.833 345.2v6.6h0.667v-6.6zM431.500 346.3v6.9h0.667v-6.9zM432.833 350.7v5.0h0.667v-5.0zM433.500 351.9v5.5h0.667v-5.5zM434.833 353.4v5.7h0.667v-5.7zM435.500 355.1v5.9h1.333v-5.9zM436.833 356.0v6.0h0.667v-6.0zM438.167 357.8v5.6h0.667v-5.6zM438.833 359.5v4.5h0.667v-4.5zM440.167 360.8v5.6h0.667v-5.6zM440.833 362.7v4.3h0.667v-4.3zM442.167 364.2v4.4h0.667v-4.4zM442.833 365.5v3.9h0.667v-3.9zM444.167 367.8v3.1h0.667v-3.1zM444.833 368.4v3.1h0.667v-3.1zM446.167 369.1v4.0h0.667v-4.0zM446.833 370.1v3.4h0.667v-3.4zM448.167 370.9v3.8h0.667v-3.8zM448.833 371.7v3.8h0.667v-3.8zM450.167 372.9v3.3h0.667v-3.3zM450.833 373.8v3.5h1.333v-3.5zM452.167 374.2v3.9h0.667v-3.9zM452.833 375.2v3.7h1.333v-3.7zM454.167 375.7v3.9h0.667v-3.9zM455.500 376.1v3.9h0.667v-3.9zM456.167 376.6v3.7h0.667v-3.7zM457.500 377.6v3.5h0.667v-3.5zM458.167 377.6v3.8h0.667v-3.8zM459.500 378.1v3.6h0.667v-3.6zM460.167 378.4v3.6h0.667v-3.6zM461.500 378.4v3.8h0.667v-3.8zM462.167 378.9v3.6h0.667v-3.6zM463.500 379.3v3.5h0.667v-3.5zM464.167 379.6v3.4h0.667v-3.4zM465.500 380.3v3.3h0.667v-3.3zM466.167 380.4v3.5h0.667v-3.5zM467.500 381.0v3.3h0.667v-3.3zM468.167 381.5v3.2h1.333v-3.2zM469.500 382.0v3.1h0.667v-3.1zM470.167 382.5v3.0h1.333v-3.0zM471.500 383.2v2.7h0.667v-2.7zM472.833 383.9v2.4h0.667v-2.4zM473.500 383.9v2.5h0.667v-2.5zM474.833 384.2v2.3h0.667v-2.3zM475.500 384.1v2.5h0.667v-2.5zM476.833 384.4v2.3h0.667v-2.3zM477.500 384.4v2.3h0.667v-2.3zM478.833 384.5v2.3h0.667v-2.3zM479.500 384.7v2.1h0.667v-2.1zM480.833 384.9v2.0h0.667v-2.0zM481.500 384.9v2.1h0.667v-2.1zM482.833 385.1v2.0h0.667v-2.0zM483.500 385.1v2.1h0.667v-2.1zM484.833 385.2v2.2h0.667v-2.2zM485.500 385.3v2.4h1.333v-2.4zM486.833 385.4v2.5h0.667v-2.5zM488.167 385.3v2.8h0.667v-2.8zM488.833 385.5v2.7h0.667v-2.7zM490.167 385.6v2.7h0.667v-2.7zM490.833 385.7v2.7h0.667v-2.7zM492.167 385.7v2.7h0.667v-2.7zM492.833 385.7v2.8h0.667v-2.8zM494.167 385.7v2.9h0.667v-2.9zM494.833 385.7v2.9h0.667v-2.9zM496.167 386.0v2.7h0.667v-2.7zM496.833 386.2v2.6h0.667v-2.6zM498.167 386.5v2.3h0.667v-2.3zM498.833 386.7v2.1h0.667v-2.1zM500.167 387.4v1.2h0.667v-1.2zM500.833 387.4v1.2h0.667v-1.2zM502.167 387.4v1.2h0.667v-1.2zM502.833 387.5v1.1h1.333v-1.1zM504.167 387.5v1.1h0.667v-1.1zM505.500 387.5v1.2h0.667v-1.2zM506.167 387.5v1.1h0.667v-1.1zM507.500 387.4v1.2h0.667v-1.2zM508.167 387.5v1.2h0.667v-1.2zM509.500 387.5v1.2h0.667v-1.2zM510.167 387.7v1.0h0.667v-1.0zM511.500 387.5v1.2h0.667v-1.2zM512.167 387.7v1.0h0.667v-1.0zM513.500 387.8v1.0h0.667v-1.0zM514.167 387.7v1.0h0.667v-1.0zM515.500 387.8v1.0h0.667v-1.0zM516.167 387.7v1.0h0.667v-1.0zM517.500 387.7v1.0h0.667v-1.0zM518.167 387.7v1.1h0.667v-1.1zM519.500 387.7v1.0h0.667v-1.0zM520.167 387.6v1.2h1.333v-1.2zM521.500 387.5v1.2h0.667v-1.2zM522.833 385.5v3.2h0.667v-3.2zM523.500 384.9v3.9h0.667v-3.9zM524.833 385.1v3.7h0.667v-3.7zM525.500 385.1v3.7h0.667v-3.7zM526.833 385.2v3.6h0.667v-3.6zM527.500 385.2v3.6h0.667v-3.6zM528.833 385.3v3.4h0.667v-3.4zM529.500 385.4v3.4h0.667v-3.4zM530.833 385.2v3.6h0.667v-3.6zM531.500 385.5v3.3h0.667v-3.3zM532.833 385.4v3.4h0.667v-3.4zM533.500 385.4v3.3h0.667v-3.3zM534.833 385.4v3.3h0.667v-3.3zM535.500 385.5v3.2h0.667v-3.2zM536.833 385.4v3.3h0.667v-3.3zM537.500 385.5v3.3h1.333v-3.3zM538.833 385.5v3.3h0.667v-3.3zM540.167 385.6v3.1h0.667v-3.1zM540.833 385.7v3.1h0.667v-3.1zM542.167 385.8v3.0h0.667v-3.0zM542.833 385.7v3.0h0.667v-3.0zM544.167 385.7v3.1h0.667v-3.1zM544.833 385.6v3.1h0.667v-3.1zM546.167 385.9v2.9h0.667v-2.9zM546.833 385.9v2.9h0.667v-2.9zM548.167 385.9v2.9h0.667v-2.9zM548.833 386.0v2.7h0.667v-2.7zM550.167 385.9v2.8h0.667v-2.8zM550.833 386.0v2.8h0.667v-2.8zM552.167 385.8v2.9h0.667v-2.9zM552.833 386.1v2.7h0.667v-2.7zM554.167 386.1v2.6h0.667v-2.6zM554.833 386.1v2.4h1.333v-2.4zM556.167 386.2v2.1h0.667v-2.1zM557.500 386.0v2.1h0.667v-2.1zM558.167 385.9v2.0h0.667v-2.0zM559.500 385.8v1.9h0.667v-1.9zM560.167 385.5v2.0h0.667v-2.0zM561.500 385.2v1.9h0.667v-1.9zM562.167 385.0v1.9h0.667v-1.9zM563.500 384.7v1.9h0.667v-1.9zM564.167 384.4v2.0h0.667v-2.0zM565.500 384.1v1.8h0.667v-1.8zM566.167 383.7v2.0h0.667v-2.0zM567.500 383.3v2.0h0.667v-2.0zM568.167 383.0v2.0h0.667v-2.0zM569.500 382.6v2.0h0.667v-2.0zM570.167 382.2v2.2h0.667v-2.2zM571.500 381.8v2.3h0.667v-2.3zM572.167 381.8v1.8h1.333v-1.8zM573.500 381.5v1.9h0.667v-1.9zM574.833 380.8v2.0h0.667v-2.0zM575.500 380.6v2.0h0.667v-2.0zM576.833 380.2v2.0h0.667v-2.0zM577.500 379.9v2.2h0.667v-2.2zM578.833 380.1v1.8h0.667v-1.8zM579.500 379.7v2.1h0.667v-2.1zM580.833 379.7v2.1h0.667v-2.1zM581.500 379.3v2.1h0.667v-2.1zM582.833 379.8v1.6h0.667v-1.6zM583.500 379.6v1.9h0.667v-1.9zM584.833 379.7v1.5h0.667v-1.5zM585.500 379.3v1.9h0.667v-1.9zM586.833 379.4v1.5h0.667v-1.5zM587.500 379.4v1.8h1.333v-1.8zM588.833 379.5v1.5h0.667v-1.5zM589.500 379.9v1.4h1.333v-1.4zM590.833 380.0v1.4h0.667v-1.4zM592.167 380.0v1.6h0.667v-1.6zM592.833 379.7v1.9h0.667v-1.9zM594.167 379.7v1.5h0.667v-1.5zM594.833 379.7v1.4h0.667v-1.4zM596.167 379.5v1.6h0.667v-1.6zM596.833 379.4v1.5h0.667v-1.5zM598.167 379.4v1.7h0.667v-1.7zM598.833 379.2v1.8h0.667v-1.8zM600.167 379.4v1.7h0.667v-1.7zM600.833 379.5v1.4h0.667v-1.4zM602.167 379.1v1.8h0.667v-1.8zM602.833 379.0v1.6h0.667v-1.6zM604.167 378.8v1.6h0.667v-1.6zM604.833 377.7v1.8h1.333v-1.8zM606.167 377.0v1.8h0.667v-1.8zM606.833 376.0v1.9h1.333v-1.9zM608.167 375.7v1.5h0.667v-1.5zM609.500 374.8v2.0h0.667v-2.0zM610.167 374.6v1.8h0.667v-1.8zM611.500 373.4v1.7h0.667v-1.7zM612.167 372.7v2.1h0.667v-2.1zM613.500 371.4v1.7h0.667v-1.7zM614.167 370.2v2.1h0.667v-2.1zM615.500 369.9v1.2h0.667v-1.2zM616.167 368.7v1.8h0.667v-1.8zM617.500 367.3v2.0h0.667v-2.0zM618.167 366.9v2.1h0.667v-2.1zM619.500 366.2v1.8h0.667v-1.8zM620.167 365.3v1.9h0.667v-1.9zM621.500 364.2v1.8h0.667v-1.8zM622.167 363.1v2.0h1.333v-2.0zM623.500 362.1v1.4h0.667v-1.4zM624.833 359.4v1.9h0.667v-1.9zM625.500 358.9v1.7h0.667v-1.7zM626.833 358.4v1.7h0.667v-1.7zM627.500 358.0v1.4h0.667v-1.4zM628.833 357.5v1.0h0.667v-1.0zM629.500 356.3v1.6h0.667v-1.6zM630.833 354.4v2.2h0.667v-2.2zM631.500 354.6v1.3h0.667v-1.3zM632.833 354.1v2.0h0.667v-2.0zM633.500 353.8v1.4h0.667v-1.4zM634.833 353.9v1.3h0.667v-1.3zM635.500 355.0v0.6h0.667v-0.6zM636.833 354.1v0.9h0.667v-0.9zM637.500 354.2v1.2h0.667v-1.2zM638.833 353.7v2.0h0.667v-2.0zM639.500 354.5v0.7h1.333v-0.7zM640.833 355.6v1.5h0.667v-1.5zM642.167 357.5v2.3h0.667v-2.3zM642.833 357.5v2.3h0.667v-2.3zM644.167 358.6v1.5h0.667v-1.5zM644.833 358.9v1.4h0.667v-1.4zM646.167 358.3v2.2h0.667v-2.2zM646.833 358.9v2.1h0.667v-2.1zM648.167 360.0v1.4h0.667v-1.4zM648.833 360.5v1.9h0.667v-1.9zM650.167 359.6v2.3h0.667v-2.3zM650.833 359.5v1.8h0.667v-1.8zM652.167 359.0v1.3h0.667v-1.3zM652.833 357.9v1.9h0.667v-1.9zM654.167 358.2v1.5h0.667v-1.5zM654.833 358.5v1.7h0.667v-1.7zM656.167 358.9v2.6h0.667v-2.6zM656.833 359.2v1.3h1.333v-1.3zM658.167 358.6v1.4h0.667v-1.4zM659.500 357.0v2.6h0.667v-2.6zM660.167 357.1v2.0h0.667v-2.0zM661.500 356.6v0.9h0.667v-0.9zM662.167 355.7v2.0h0.667v-2.0zM663.500 355.0v1.1h0.667v-1.1zM664.167 353.8v2.4h0.667v-2.4zM665.500 353.8v1.2h0.667v-1.2zM666.167 352.5v2.0h0.667v-2.0zM667.500 353.8v1.0h0.667v-1.0zM668.167 352.6v2.1h0.667v-2.1zM669.500 352.4v1.8h0.667v-1.8zM670.167 352.2v2.8h0.667v-2.8zM671.500 352.1v1.8h0.667v-1.8zM672.167 351.9v2.3h0.667v-2.3zM673.500 350.7v1.9h0.667v-1.9zM674.167 349.9v1.3h1.333v-1.3zM675.500 349.4v1.0h0.667v-1.0zM676.833 349.2v1.2h0.667v-1.2zM677.500 348.6v2.1h0.667v-2.1zM678.833 349.6v1.6h0.667v-1.6zM679.500 348.4v2.3h0.667v-2.3zM680.833 348.1v2.2h0.667v-2.2zM681.500 347.9v1.9h0.667v-1.9zM682.833 348.7v1.3h0.667v-1.3zM683.500 347.9v2.7h0.667v-2.7zM684.833 348.6v1.7h0.667v-1.7zM685.500 350.4v1.4h0.667v-1.4zM686.833 351.0v1.1h0.667v-1.1zM687.500 350.8v1.7h0.667v-1.7zM688.833 349.5v2.2h0.667v-2.2zM689.500 350.3v1.7h0.667v-1.7zM690.833 350.9v1.3h0.667v-1.3zM691.500 350.6v1.2h1.333v-1.2zM692.833 349.8v2.3h0.667v-2.3zM694.167 351.0v1.6h0.667v-1.6zM694.833 350.6v2.7h0.667v-2.7zM696.167 351.4v2.5h0.667v-2.5zM696.833 353.5v1.0h0.667v-1.0z"/>
<path fill="#529cff" d="M90.167 330.3v0.7h0.667v-0.7zM92.167 326.8v1.7h0.667v-1.7zM92.833 327.1v0.7h1.333v-0.7zM95.500 317.0v3.1h0.667v-3.1zM103.500 306.0v0.4h0.667v-0.4zM104.167 306.9v1.5h0.667v-1.5zM105.500 306.7v0.8h0.667v-0.8zM106.167 302.9v3.3h0.667v-3.3zM108.167 303.4v0.1h0.667v-0.1zM112.833 304.8v1.4h0.667v-1.4zM113.500 297.7v0.4h0.667v-0.4zM114.833 299.0v0.2h0.667v-0.2zM118.833 303.8v0.8h0.667v-0.8zM119.500 303.6v0.2h0.667v-0.2zM121.500 308.6v1.5h0.667v-1.5zM125.500 316.6v0.9h0.667v-0.9zM126.833 318.3v1.1h0.667v-1.1zM130.167 319.6v2.1h0.667v-2.1zM130.833 321.7v0.5h0.667v-0.5zM132.833 326.0v2.1h0.667v-2.1zM134.167 329.2v1.2h0.667v-1.2zM134.833 330.8v2.0h0.667v-2.0zM136.167 331.5v1.7h0.667v-1.7zM136.833 331.9v0.4h0.667v-0.4zM142.833 325.4v0.1h0.667v-0.1zM144.833 324.0v0.5h1.333v-0.5zM146.167 321.3v10.5h0.667v-10.5zM147.500 317.8v20.9h0.667v-20.9zM148.167 315.1v24.8h0.667v-24.8zM149.500 316.6v25.1h0.667v-25.1zM150.167 319.1v22.7h0.667v-22.7zM151.500 321.8v20.8h0.667v-20.8zM152.167 321.1v22.3h0.667v-22.3zM153.500 318.0v24.1h0.667v-24.1zM154.167 319.2v22.5h0.667v-22.5zM155.500 316.7v23.3h0.667v-23.3zM156.167 318.1v21.7h0.667v-21.7zM157.500 317.5v24.7h0.667v-24.7zM158.167 319.5v22.4h0.667v-22.4zM159.500 326.2v21.2h0.667v-21.2zM160.167 328.3v21.7h0.667v-21.7zM161.500 332.4v18.7h0.667v-18.7zM162.167 330.2v21.0h1.333v-21.0zM163.500 329.9v21.8h0.667v-21.8zM164.833 332.9v19.7h0.667v-19.7zM165.500 333.9v18.6h0.667v-18.6zM166.833 332.5v21.6h0.667v-21.6zM167.500 333.3v21.0h0.667v-21.0zM168.833 332.5v22.7h0.667v-22.7zM169.500 334.3v21.6h0.667v-21.6zM170.833 336.6v20.2h0.667v-20.2zM171.500 336.4v21.3h0.667v-21.3zM172.833 337.3v21.4h0.667v-21.4zM173.500 337.3v20.6h0.667v-20.6zM174.833 339.0v21.1h0.667v-21.1zM175.500 339.1v20.7h0.667v-20.7zM176.833 339.0v21.9h0.667v-21.9zM177.500 340.7v22.0h1.333v-22.0zM178.833 341.4v21.7h0.667v-21.7zM179.500 348.4v15.5h1.333v-15.5zM180.833 348.4v17.0h0.667v-17.0zM182.167 350.0v16.1h0.667v-16.1zM182.833 351.4v15.3h0.667v-15.3zM184.167 350.7v17.5h0.667v-17.5zM184.833 352.5v16.4h0.667v-16.4zM186.167 353.4v16.3h0.667v-16.3zM186.833 354.1v15.3h0.667v-15.3zM188.167 355.4v14.6h0.667v-14.6zM188.833 355.2v15.1h0.667v-15.1zM190.167 354.4v16.8h0.667v-16.8zM190.833 355.5v15.9h0.667v-15.9zM192.167 356.1v15.9h0.667v-15.9zM192.833 356.2v16.1h0.667v-16.1zM194.167 355.5v16.9h0.667v-16.9zM194.833 355.3v17.6h1.333v-17.6zM196.167 356.5v16.6h0.667v-16.6zM196.833 357.1v16.1h1.333v-16.1zM198.167 358.0v16.0h0.667v-16.0zM199.500 358.6v16.3h0.667v-16.3zM200.167 360.8v13.6h0.667v-13.6zM201.500 359.2v15.2h0.667v-15.2zM202.167 360.6v13.6h0.667v-13.6zM203.500 361.8v12.1h0.667v-12.1zM204.167 360.7v12.6h0.667v-12.6zM205.500 360.6v12.8h0.667v-12.8zM206.167 359.7v13.8h0.667v-13.8zM207.500 360.4v12.7h0.667v-12.7zM208.167 358.7v13.8h0.667v-13.8zM209.500 359.0v13.4h0.667v-13.4zM210.167 358.8v13.8h0.667v-13.8zM211.500 357.6v14.5h0.667v-14.5zM212.167 358.0v14.4h1.333v-14.4zM213.500 359.4v13.6h0.667v-13.6zM214.833 361.9v10.7h0.667v-10.7zM215.500 361.8v10.7h0.667v-10.7zM216.833 361.1v11.3h0.667v-11.3zM217.500 361.3v11.1h0.667v-11.1zM218.833 361.3v11.9h0.667v-11.9zM219.500 360.9v12.0h0.667v-12.0zM220.833 362.2v10.6h0.667v-10.6zM221.500 364.3v9.3h0.667v-9.3zM222.833 367.0v8.4h0.667v-8.4zM223.500 368.1v8.2h0.667v-8.2zM224.833 368.2v8.4h0.667v-8.4zM225.500 368.0v9.0h0.667v-9.0zM226.833 367.3v9.7h0.667v-9.7zM227.500 368.1v8.9h0.667v-8.9zM228.833 368.1v8.7h0.667v-8.7zM229.500 363.8v12.9h1.333v-12.9zM230.833 365.1v11.5h0.667v-11.5zM232.167 366.9v9.9h0.667v-9.9zM232.833 366.4v10.7h0.667v-10.7zM234.167 367.8v9.3h0.667v-9.3zM234.833 367.8v9.8h0.667v-9.8zM236.167 369.2v8.9h0.667v-8.9zM236.833 369.4v9.0h0.667v-9.0zM238.167 371.4v7.8h0.667v-7.8zM238.833 372.2v7.5h0.667v-7.5zM240.167 370.6v8.7h0.667v-8.7zM240.833 369.9v9.0h0.667v-9.0zM242.167 369.1v9.2h0.667v-9.2zM242.833 369.4v9.2h0.667v-9.2zM244.167 372.5v7.1h0.667v-7.1zM244.833 373.5v6.1h0.667v-6.1zM246.167 372.7v6.6h0.667v-6.6zM246.833 371.7v7.0h1.333v-7.0zM248.167 371.3v7.6h0.667v-7.6zM249.500 371.6v7.3h0.667v-7.3zM250.167 372.6v6.6h0.667v-6.6zM251.500 373.1v6.0h0.667v-6.0zM252.167 373.3v5.8h0.667v-5.8zM253.500 371.7v7.2h0.667v-7.2zM254.167 371.1v7.6h0.667v-7.6zM255.500 371.3v6.8h0.667v-6.8zM256.167 372.1v6.2h0.667v-6.2zM257.500 371.1v6.9h0.667v-6.9zM258.167 371.1v6.7h0.667v-6.7zM259.500 372.0v5.8h0.667v-5.8zM260.167 372.6v5.0h0.667v-5.0zM261.500 370.6v6.8h0.667v-6.8zM262.167 369.9v7.4h0.667v-7.4zM263.500 371.1v6.2h0.667v-6.2zM264.167 372.6v4.5h1.333v-4.5zM265.500 372.8v3.3h0.667v-3.3zM266.833 369.8v4.1h0.667v-4.1zM267.500 367.7v5.5h0.667v-5.5zM268.833 363.2v8.8h0.667v-8.8zM269.500 361.9v9.8h0.667v-9.8zM270.833 364.5v5.8h0.667v-5.8zM271.500 364.3v5.9h0.667v-5.9zM272.833 362.0v6.2h0.667v-6.2zM273.500 361.1v5.9h0.667v-5.9zM274.833 355.2v10.0h0.667v-10.0zM275.500 353.6v9.6h0.667v-9.6zM276.833 352.7v8.8h0.667v-8.8zM277.500 352.6v8.2h0.667v-8.2zM278.833 355.2v3.4h0.667v-3.4zM279.500 354.8v3.4h0.667v-3.4zM280.833 353.7v4.8h0.667v-4.8zM281.500 351.9v5.1h1.333v-5.1zM282.833 350.6v5.9h0.667v-5.9zM284.167 351.4v4.8h0.667v-4.8zM284.833 350.5v4.9h0.667v-4.9zM286.167 347.9v5.2h0.667v-5.2zM286.833 346.2v6.0h0.667v-6.0zM288.167 345.0v3.3h0.667v-3.3zM288.833 344.7v4.2h0.667v-4.2zM290.167 342.1v2.3h0.667v-2.3zM290.833 339.4v3.5h0.667v-3.5zM292.167 335.0v7.0h0.667v-7.0zM292.833 335.8v5.0h0.667v-5.0zM294.167 334.3v4.0h0.667v-4.0zM294.833 333.2v5.2h0.667v-5.2zM296.167 333.1v2.8h0.667v-2.8zM296.833 329.7v5.6h0.667v-5.6zM298.167 326.5v5.7h0.667v-5.7zM298.833 321.7v8.7h1.333v-8.7zM300.167 320.8v8.5h0.667v-8.5zM301.500 316.8v10.1h0.667v-10.1zM302.167 316.8v9.1h0.667v-9.1zM303.500 311.5v12.1h0.667v-12.1zM304.167 311.1v10.1h0.667v-10.1zM305.500 306.2v11.5h0.667v-11.5zM306.167 308.0v8.7h0.667v-8.7zM307.500 307.1v8.7h0.667v-8.7zM308.167 303.8v9.2h0.667v-9.2zM309.500 303.6v7.7h0.667v-7.7zM310.167 300.6v9.5h0.667v-9.5zM311.500 299.3v9.9h0.667v-9.9zM312.167 292.8v16.1h0.667v-16.1zM313.500 287.2v20.5h0.667v-20.5zM314.167 291.4v15.7h1.333v-15.7zM315.500 287.8v18.0h0.667v-18.0zM316.167 285.1v19.9h1.333v-19.9zM317.500 284.5v21.0h0.667v-21.0zM318.833 280.8v24.4h0.667v-24.4zM319.500 282.0v23.3h0.667v-23.3zM320.833 278.2v25.9h0.667v-25.9zM321.500 281.5v21.7h0.667v-21.7zM322.833 278.9v25.7h0.667v-25.7zM323.500 274.5v30.1h0.667v-30.1zM324.833 274.0v29.0h0.667v-29.0zM325.500 275.3v30.2h0.667v-30.2zM326.833 272.8v33.1h0.667v-33.1zM327.500 275.7v31.7h0.667v-31.7zM328.833 276.2v29.6h0.667v-29.6zM329.500 275.2v30.9h0.667v-30.9zM330.833 274.9v33.7h0.667v-33.7zM331.500 275.3v30.8h1.333v-30.8zM332.833 275.5v31.6h0.667v-31.6zM333.500 274.5v32.1h1.333v-32.1zM334.833 271.2v35.2h0.667v-35.2zM336.167 271.2v34.1h0.667v-34.1zM336.833 268.3v38.3h0.667v-38.3zM338.167 269.4v37.6h0.667v-37.6zM338.833 266.9v39.3h0.667v-39.3zM340.167 268.5v37.0h0.667v-37.0zM340.833 264.7v39.7h0.667v-39.7zM342.167 263.8v41.7h0.667v-41.7zM342.833 265.0v39.1h0.667v-39.1zM344.167 265.6v38.1h0.667v-38.1zM344.833 262.2v38.4h0.667v-38.4zM346.167 263.0v38.3h0.667v-38.3zM346.833 263.6v35.5h0.667v-35.5zM348.167 258.4v40.9h0.667v-40.9zM348.833 251.8v45.4h1.333v-45.4zM350.167 250.4v43.3h0.667v-43.3zM351.500 254.0v38.0h0.667v-38.0zM352.167 251.7v39.0h0.667v-39.0zM353.500 243.9v41.7h0.667v-41.7zM354.167 240.2v43.6h0.667v-43.6zM355.500 236.1v42.7h0.667v-42.7zM356.167 238.4v38.8h0.667v-38.8zM357.500 237.5v36.2h0.667v-36.2zM358.167 234.2v39.1h0.667v-39.1zM359.500 231.8v39.5h0.667v-39.5zM360.167 227.8v41.1h0.667v-41.1zM361.500 223.1v46.1h0.667v-46.1zM362.167 227.8v41.6h0.667v-41.6zM363.500 229.4v42.6h0.667v-42.6zM364.167 230.6v40.4h0.667v-40.4zM365.500 221.3v47.0h0.667v-47.0zM366.167 219.3v47.6h1.333v-47.6zM367.500 213.5v53.3h0.667v-53.3zM368.833 209.8v55.7h0.667v-55.7zM369.500 206.9v61.5h0.667v-61.5zM370.833 208.2v59.7h0.667v-59.7zM371.500 208.9v58.5h0.667v-58.5zM372.833 208.7v60.2h0.667v-60.2zM373.500 205.0v66.4h0.667v-66.4zM374.833 200.1v69.7h0.667v-69.7zM375.500 198.2v73.6h0.667v-73.6zM376.833 199.0v73.1h0.667v-73.1zM377.500 203.5v69.9h0.667v-69.9zM378.833 199.1v73.1h0.667v-73.1zM379.500 200.3v70.8h0.667v-70.8zM380.833 199.1v72.5h0.667v-72.5zM381.500 198.2v72.6h0.667v-72.6zM382.833 192.5v78.5h0.667v-78.5zM383.500 195.2v75.0h1.333v-75.0zM384.833 197.5v76.1h0.667v-76.1zM386.167 200.9v72.7h0.667v-72.7zM386.833 201.0v73.9h0.667v-73.9zM388.167 202.8v71.7h0.667v-71.7zM388.833 200.1v75.5h0.667v-75.5zM390.167 201.3v75.0h0.667v-75.0zM390.833 196.9v80.0h0.667v-80.0zM392.167 201.5v77.1h0.667v-77.1zM392.833 198.6v79.2h0.667v-79.2zM394.167 199.6v79.6h0.667v-79.6zM394.833 203.5v78.4h0.667v-78.4zM396.167 202.7v79.4h0.667v-79.4zM396.833 205.4v77.0h0.667v-77.0zM398.167 204.3v81.1h0.667v-81.1zM398.833 209.8v75.9h0.667v-75.9zM400.167 209.9v75.3h0.667v-75.3zM400.833 210.1v81.1h1.333v-81.1zM402.167 214.2v82.0h0.667v-82.0zM403.500 219.3v82.0h0.667v-82.0zM404.167 218.7v84.0h0.667v-84.0zM405.500 225.2v83.1h0.667v-83.1zM406.167 229.9v77.8h0.667v-77.8zM407.500 232.5v79.1h0.667v-79.1zM408.167 232.9v80.7h0.667v-80.7zM409.500 235.5v81.2h0.667v-81.2zM410.167 239.1v79.7h0.667v-79.7zM411.500 239.0v82.6h0.667v-82.6zM412.167 237.9v84.1h0.667v-84.1zM413.500 244.4v81.5h0.667v-81.5zM414.167 245.1v80.4h0.667v-80.4zM415.500 251.2v76.4h0.667v-76.4zM416.167 248.8v81.2h0.667v-81.2zM417.500 247.5v82.9h0.667v-82.9zM418.167 247.5v84.8h1.333v-84.8zM419.500 258.7v73.6h0.667v-73.6zM420.833 264.0v69.4h0.667v-69.4zM421.500 265.1v68.9h0.667v-68.9zM422.833 267.4v67.9h0.667v-67.9zM423.500 268.4v67.0h0.667v-67.0zM424.833 269.5v67.5h0.667v-67.5zM425.500 270.3v68.0h0.667v-68.0zM426.833 273.6v66.7h0.667v-66.7zM427.500 275.0v65.4h0.667v-65.4zM428.833 275.6v66.8h0.667v-66.8zM429.500 284.6v59.1h0.667v-59.1zM430.833 283.1v62.1h0.667v-62.1zM431.500 285.5v60.8h0.667v-60.8zM432.833 287.7v63.1h0.667v-63.1zM433.500 292.0v59.9h0.667v-59.9zM434.833 296.2v57.2h0.667v-57.2zM435.500 299.1v56.0h1.333v-56.0zM436.833 303.2v52.8h0.667v-52.8zM438.167 306.8v51.0h0.667v-51.0zM438.833 306.5v53.0h0.667v-53.0zM440.167 311.7v49.1h0.667v-49.1zM440.833 314.8v47.9h0.667v-47.9zM442.167 317.8v46.3h0.667v-46.3zM442.833 317.9v47.6h0.667v-47.6zM444.167 320.2v47.5h0.667v-47.5zM444.833 321.1v47.3h0.667v-47.3zM446.167 321.3v47.8h0.667v-47.8zM446.833 321.8v48.3h0.667v-48.3zM448.167 329.2v41.7h0.667v-41.7zM448.833 330.5v41.2h0.667v-41.2zM450.167 336.6v36.3h0.667v-36.3zM450.833 337.1v36.7h1.333v-36.7zM452.167 340.2v33.9h0.667v-33.9zM452.833 341.9v33.2h1.333v-33.2zM454.167 341.4v34.2h0.667v-34.2zM455.500 343.3v32.8h0.667v-32.8zM456.167 343.0v33.6h0.667v-33.6zM457.500 346.1v31.5h0.667v-31.5zM458.167 345.7v32.0h0.667v-32.0zM459.500 344.8v33.3h0.667v-33.3zM460.167 346.6v31.8h0.667v-31.8zM461.500 346.7v31.7h0.667v-31.7zM462.167 347.4v31.5h0.667v-31.5zM463.500 348.7v30.6h0.667v-30.6zM464.167 348.7v31.0h0.667v-31.0zM465.500 349.8v30.4h0.667v-30.4zM466.167 351.0v29.3h0.667v-29.3zM467.500 351.5v29.5h0.667v-29.5zM468.167 351.7v29.8h1.333v-29.8zM469.500 354.9v27.1h0.667v-27.1zM470.167 354.8v27.7h1.333v-27.7zM471.500 356.0v27.2h0.667v-27.2zM472.833 359.1v24.8h0.667v-24.8zM473.500 361.8v22.1h0.667v-22.1zM474.833 365.1v19.1h0.667v-19.1zM475.500 365.5v18.7h0.667v-18.7zM476.833 367.0v17.3h0.667v-17.3zM477.500 366.8v17.6h0.667v-17.6zM478.833 368.3v16.2h0.667v-16.2zM479.500 368.7v16.0h0.667v-16.0zM480.833 369.8v15.1h0.667v-15.1zM481.500 370.4v14.6h0.667v-14.6zM482.833 370.1v15.0h0.667v-15.0zM483.500 372.0v13.1h0.667v-13.1zM484.833 371.2v14.1h0.667v-14.1zM485.500 372.0v13.3h1.333v-13.3zM486.833 372.8v12.6h0.667v-12.6zM488.167 373.7v11.7h0.667v-11.7zM488.833 373.9v11.5h0.667v-11.5zM490.167 373.7v11.9h0.667v-11.9zM490.833 374.4v11.3h0.667v-11.3zM492.167 375.3v10.4h0.667v-10.4zM492.833 375.1v10.6h0.667v-10.6zM494.167 375.4v10.3h0.667v-10.3zM494.833 375.3v10.4h0.667v-10.4zM496.167 376.5v9.5h0.667v-9.5zM496.833 376.5v9.7h0.667v-9.7zM498.167 376.5v10.0h0.667v-10.0zM498.833 377.0v9.7h0.667v-9.7zM500.167 377.5v9.9h0.667v-9.9zM500.833 377.6v9.9h0.667v-9.9zM502.167 378.3v9.1h0.667v-9.1zM502.833 378.7v8.8h1.333v-8.8zM504.167 378.8v8.7h0.667v-8.7zM505.500 379.0v8.5h0.667v-8.5zM506.167 378.8v8.7h0.667v-8.7zM507.500 378.8v8.7h0.667v-8.7zM508.167 379.0v8.5h0.667v-8.5zM509.500 378.9v8.7h0.667v-8.7zM510.167 378.8v8.9h0.667v-8.9zM511.500 379.3v8.2h0.667v-8.2zM512.167 379.0v8.6h0.667v-8.6zM513.500 379.2v8.6h0.667v-8.6zM514.167 379.3v8.4h0.667v-8.4zM515.500 379.1v8.7h0.667v-8.7zM516.167 379.4v8.3h0.667v-8.3zM517.500 379.2v8.5h0.667v-8.5zM518.167 379.0v8.7h0.667v-8.7zM519.500 378.8v8.9h0.667v-8.9zM520.167 379.2v8.4h1.333v-8.4zM521.500 380.0v7.5h0.667v-7.5zM522.833 381.5v4.1h0.667v-4.1zM523.500 381.3v3.6h0.667v-3.6zM524.833 381.7v3.4h0.667v-3.4zM525.500 381.6v3.5h0.667v-3.5zM526.833 381.4v3.7h0.667v-3.7zM527.500 381.6v3.5h0.667v-3.5zM528.833 382.1v3.3h0.667v-3.3zM529.500 382.1v3.3h0.667v-3.3zM530.833 382.1v3.1h0.667v-3.1zM531.500 382.2v3.2h0.667v-3.2zM532.833 382.2v3.2h0.667v-3.2zM533.500 382.3v3.1h0.667v-3.1zM534.833 381.9v3.5h0.667v-3.5zM535.500 381.5v4.0h0.667v-4.0zM536.833 381.0v4.4h0.667v-4.4zM537.500 380.7v4.8h1.333v-4.8zM538.833 381.3v4.2h0.667v-4.2zM540.167 382.4v3.3h0.667v-3.3zM540.833 382.7v3.1h0.667v-3.1zM542.167 383.1v2.6h0.667v-2.6zM542.833 383.1v2.6h0.667v-2.6zM544.167 382.8v2.9h0.667v-2.9zM544.833 382.7v2.9h0.667v-2.9zM546.167 383.3v2.5h0.667v-2.5zM546.833 383.3v2.6h0.667v-2.6zM548.167 383.0v2.9h0.667v-2.9zM548.833 383.6v2.5h0.667v-2.5zM550.167 383.5v2.5h0.667v-2.5zM550.833 383.8v2.2h0.667v-2.2zM552.167 383.7v2.2h0.667v-2.2zM552.833 383.8v2.3h0.667v-2.3zM554.167 384.0v2.1h0.667v-2.1zM554.833 384.3v1.8h1.333v-1.8zM556.167 384.8v1.4h0.667v-1.4zM557.500 384.1v2.0h0.667v-2.0zM558.167 384.0v1.9h0.667v-1.9zM559.500 382.7v3.0h0.667v-3.0zM560.167 382.2v3.3h0.667v-3.3zM561.500 382.2v3.0h0.667v-3.0zM562.167 382.1v2.9h0.667v-2.9zM563.500 381.9v2.8h0.667v-2.8zM564.167 381.7v2.7h0.667v-2.7zM565.500 381.0v3.2h0.667v-3.2zM566.167 381.0v2.7h0.667v-2.7zM567.500 380.9v2.4h0.667v-2.4zM568.167 380.9v2.1h0.667v-2.1zM569.500 380.4v2.2h0.667v-2.2zM570.167 380.8v1.4h0.667v-1.4zM571.500 380.8v1.0h0.667v-1.0zM572.167 380.3v1.5h1.333v-1.5zM573.500 380.1v1.4h0.667v-1.4zM574.833 379.8v1.0h0.667v-1.0zM575.500 379.2v1.4h0.667v-1.4zM576.833 378.9v1.4h0.667v-1.4zM577.500 378.7v1.2h0.667v-1.2zM578.833 378.6v1.6h0.667v-1.6zM579.500 378.6v1.1h0.667v-1.1zM580.833 378.4v1.3h0.667v-1.3zM581.500 378.7v0.6h0.667v-0.6zM582.833 378.4v1.4h0.667v-1.4zM583.500 378.3v1.2h0.667v-1.2zM584.833 378.6v1.1h0.667v-1.1zM585.500 378.3v1.0h0.667v-1.0zM586.833 378.6v0.8h0.667v-0.8zM587.500 378.7v0.7h1.333v-0.7zM588.833 378.6v1.0h0.667v-1.0zM589.500 378.6v1.3h1.333v-1.3zM590.833 378.8v1.2h0.667v-1.2zM592.167 378.7v1.3h0.667v-1.3zM592.833 378.1v1.5h0.667v-1.5zM594.167 377.9v1.8h0.667v-1.8zM594.833 378.3v1.4h0.667v-1.4zM596.167 377.8v1.6h0.667v-1.6zM596.833 377.2v2.2h0.667v-2.2zM598.167 377.5v1.9h0.667v-1.9zM598.833 377.9v1.3h0.667v-1.3zM600.167 377.8v1.6h0.667v-1.6zM600.833 378.2v1.4h0.667v-1.4zM602.167 377.9v1.2h0.667v-1.2zM602.833 377.6v1.5h0.667v-1.5zM604.167 376.3v2.5h0.667v-2.5zM604.833 375.8v1.9h1.333v-1.9zM606.167 375.1v1.9h0.667v-1.9zM606.833 373.5v2.5h1.333v-2.5zM608.167 373.3v2.4h0.667v-2.4zM609.500 372.2v2.6h0.667v-2.6zM610.167 371.6v3.0h0.667v-3.0zM611.500 370.1v3.3h0.667v-3.3zM612.167 369.1v3.7h0.667v-3.7zM613.500 367.8v3.6h0.667v-3.6zM614.167 367.9v2.3h0.667v-2.3zM615.500 367.0v2.9h0.667v-2.9zM616.167 366.6v2.1h0.667v-2.1zM617.500 365.6v1.6h0.667v-1.6zM618.167 365.3v1.6h0.667v-1.6zM619.500 364.1v2.2h0.667v-2.2zM620.167 363.4v1.9h0.667v-1.9zM621.500 362.4v1.8h0.667v-1.8zM622.167 361.2v2.0h1.333v-2.0zM623.500 358.9v3.2h0.667v-3.2zM624.833 354.8v4.6h0.667v-4.6zM625.500 354.0v4.9h0.667v-4.9zM626.833 350.7v7.7h0.667v-7.7zM627.500 351.3v6.7h0.667v-6.7zM628.833 350.5v7.0h0.667v-7.0zM629.500 351.1v5.2h0.667v-5.2zM630.833 348.3v6.1h0.667v-6.1zM631.500 346.9v7.7h0.667v-7.7zM632.833 346.4v7.6h0.667v-7.6zM633.500 343.9v9.8h0.667v-9.8zM634.833 343.1v10.8h0.667v-10.8zM635.500 345.6v9.4h0.667v-9.4zM636.833 346.3v7.8h0.667v-7.8zM637.500 346.3v7.9h0.667v-7.9zM638.833 345.0v8.7h0.667v-8.7zM639.500 345.0v9.5h1.333v-9.5zM640.833 346.1v9.5h0.667v-9.5zM642.167 346.8v10.6h0.667v-10.6zM642.833 347.3v10.3h0.667v-10.3zM644.167 347.7v10.9h0.667v-10.9zM644.833 346.8v12.1h0.667v-12.1zM646.167 348.6v9.7h0.667v-9.7zM646.833 346.5v12.4h0.667v-12.4zM648.167 348.0v12.1h0.667v-12.1zM648.833 349.4v11.1h0.667v-11.1zM650.167 348.0v11.7h0.667v-11.7zM650.833 347.4v12.1h0.667v-12.1zM652.167 346.9v12.1h0.667v-12.1zM652.833 347.4v10.5h0.667v-10.5zM654.167 349.3v8.9h0.667v-8.9zM654.833 348.7v9.8h0.667v-9.8zM656.167 349.2v9.7h0.667v-9.7zM656.833 348.8v10.4h1.333v-10.4zM658.167 350.1v8.6h0.667v-8.6zM659.500 347.9v9.1h0.667v-9.1zM660.167 346.3v10.8h0.667v-10.8zM661.500 345.5v11.1h0.667v-11.1zM662.167 345.6v10.1h0.667v-10.1zM663.500 345.7v9.4h0.667v-9.4zM664.167 344.4v9.4h0.667v-9.4zM665.500 343.5v10.3h0.667v-10.3zM666.167 344.0v8.4h0.667v-8.4zM667.500 340.5v13.3h0.667v-13.3zM668.167 339.9v12.7h0.667v-12.7zM669.500 341.4v11.0h0.667v-11.0zM670.167 340.8v11.4h0.667v-11.4zM671.500 339.9v12.2h0.667v-12.2zM672.167 339.8v12.0h0.667v-12.0zM673.500 338.7v12.1h0.667v-12.1zM674.167 338.5v11.4h1.333v-11.4zM675.500 335.8v13.7h0.667v-13.7zM676.833 334.3v14.9h0.667v-14.9zM677.500 332.4v16.2h0.667v-16.2zM678.833 332.7v16.9h0.667v-16.9zM679.500 333.6v14.8h0.667v-14.8zM680.833 332.8v15.3h0.667v-15.3zM681.500 333.6v14.3h0.667v-14.3zM682.833 332.4v16.3h0.667v-16.3zM683.500 331.7v16.2h0.667v-16.2zM684.833 333.5v15.1h0.667v-15.1zM685.500 333.4v17.0h0.667v-17.0zM686.833 333.1v17.9h0.667v-17.9zM687.500 333.7v17.2h0.667v-17.2zM688.833 334.3v15.2h0.667v-15.2zM689.500 334.8v15.6h0.667v-15.6zM690.833 335.4v15.5h0.667v-15.5zM691.500 336.3v14.3h1.333v-14.3zM692.833 336.1v13.8h0.667v-13.8zM694.167 337.4v13.6h0.667v-13.6zM694.833 337.1v13.5h0.667v-13.5zM696.167 335.6v15.8h0.667v-15.8zM696.833 337.0v16.5h0.667v-16.5z"/>
</g>
<g>
<rect x="90.8" y="389.95" width="607" height="1.3" fill="#d4d4d4"/>
<rect x="90.55" y="390.4" width="1.1" height="4.4" fill="#d0d0d0"/>
<rect x="152.76" y="390.4" width="1.1" height="4.4" fill="#d0d0d0"/>
<rect x="214.98" y="390.4" width="1.1" height="4.4" fill="#d0d0d0"/>
<rect x="277.19" y="390.4" width="1.1" height="4.4" fill="#d0d0d0"/>
<rect x="339.41" y="390.4" width="1.1" height="4.4" fill="#d0d0d0"/>
<rect x="402.64" y="390.4" width="1.1" height="4.4" fill="#d0d0d0"/>
<rect x="462.81" y="390.4" width="1.1" height="4.4" fill="#d0d0d0"/>
<rect x="525.03" y="390.4" width="1.1" height="4.4" fill="#d0d0d0"/>
<rect x="587.24" y="390.4" width="1.1" height="4.4" fill="#d0d0d0"/>
<rect x="649.46" y="390.4" width="1.1" height="4.4" fill="#d0d0d0"/>
</g>
<g stroke="#acacac" stroke-width="1.8" stroke-dasharray="1.25 1.39" fill="none">
<line x1="113.7" y1="149" x2="113.7" y2="298"/>
<line x1="147.4" y1="149" x2="147.4" y2="317"/>
<line x1="159.9" y1="149" x2="159.9" y2="320"/>
</g>
<rect x="370.9" y="149" width="2" height="65.3" fill="#000"/>
<rect x="87" y="115" width="8" height="8" fill="#002a6c"/>
<rect x="348.9" y="115" width="8" height="8" fill="#a0c8ff"/>
<rect x="489.6" y="115" width="8" height="8" fill="#529cff"/>
<text transform="translate(99,124) scale(1.077,1)" style="font-size:14.85px">Cleifion sydd wedi'u cadarnhau</text>
<text transform="translate(360.6,124) scale(1.077,1)" style="font-size:14.85px">Cleifion posibl</text>
<text transform="translate(501.6,124) scale(1.077,1)" style="font-size:14.85px">Cleifion sy’n gwella</text>
<g style="font-size:13px">
<text x="114.2" y="142.3" text-anchor="middle" style="font-size:13.6px;letter-spacing:0.15px">(a)</text>
<text x="147.4" y="142.3" text-anchor="middle" style="font-size:13.6px;letter-spacing:0.15px">(b)</text>
<text x="163.0" y="142.3" text-anchor="middle" style="font-size:13.6px;letter-spacing:0.15px">(c)</text>
</g>
<text transform="translate(345.6,172) scale(1.04,1)" text-anchor="middle" style="font-size:15.2px">2020</text>
<text transform="translate(397.4,172) scale(1.04,1)" text-anchor="middle" style="font-size:15.2px">2021</text>
<text transform="translate(77.4,395.4) scale(1.072,1)" text-anchor="end" style="font-size:15.2px">0</text>
<text transform="translate(77.4,360.9) scale(1.072,1)" text-anchor="end" style="font-size:15.2px">500</text>
<text transform="translate(77.4,326.4) scale(1.072,1)" text-anchor="end" style="font-size:15.2px">1,000</text>
<text transform="translate(77.4,291.9) scale(1.072,1)" text-anchor="end" style="font-size:15.2px">1,500</text>
<text transform="translate(77.4,257.4) scale(1.072,1)" text-anchor="end" style="font-size:15.2px">2,000</text>
<text transform="translate(77.4,222.9) scale(1.072,1)" text-anchor="end" style="font-size:15.2px">2,500</text>
<text transform="translate(77.4,188.4) scale(1.072,1)" text-anchor="end" style="font-size:15.2px">3,000</text>
<text transform="translate(77.4,153.9) scale(1.072,1)" text-anchor="end" style="font-size:15.2px">3,500</text>

<text x="91.4" y="413.1" text-anchor="middle" style="font-size:14.85px">01-Ebr</text>
<text x="153.6" y="413.1" text-anchor="middle" style="font-size:14.85px">01-Meh</text>
<text x="215.8" y="413.1" text-anchor="middle" style="font-size:14.85px">01-Awst</text>
<text x="278.0" y="413.1" text-anchor="middle" style="font-size:14.85px">01-Hyd</text>
<text x="340.3" y="413.1" text-anchor="middle" style="font-size:14.85px">01-Rhag</text>
<text x="403.5" y="413.1" text-anchor="middle" style="font-size:14.85px">01-Chwef</text>
<text x="463.7" y="413.1" text-anchor="middle" style="font-size:14.85px">01-Ebr</text>
<text x="525.9" y="413.1" text-anchor="middle" style="font-size:14.85px">01-Meh</text>
<text x="588.1" y="413.1" text-anchor="middle" style="font-size:14.85px">01-Awst</text>
<text x="650.3" y="413.1" text-anchor="middle" style="font-size:14.85px">01-Hyd</text>
<text transform="translate(394.6,435.4) scale(1.06,1)" text-anchor="middle" style="font-weight:bold;font-size:15.1px">Dyddiad</text>
<text transform="translate(25.1,264.8) rotate(-90)" text-anchor="middle" style="font-weight:bold">Nifer</text>
</svg>
<div class="notes">
<p style="top:0.0px;letter-spacing:0.09px">Ffynhonnell: Iechyd a Gofal Digidol Cymru (IGDC)</p>
<p style="top:20.0px;letter-spacing:0.07px">(a) O 23 Ebrill 2020, data o ysbytai cymunedol wedi'i gynnwys.</p>
<p style="top:41.0px;letter-spacing:0.02px">(b) O 26 Mai 2020, cyflwynwyd categori newydd ar gyfer adfer cleifion COVID-19.</p>
<p style="top:62.0px;letter-spacing:0.075px">(c) O 7 Mehefin 2020 ymlaen, dechreuodd Bwrdd Iechyd Prifysgol Aneurin Bevan adrodd am</p>
<p style="top:82.0px;letter-spacing:0.085px">gleifion a oedd yn gwella, ond cofnodwyd y rhain yn y categori COVID-19 wedi'i gadarnhau cyn</p>
<p style="top:103.0px;letter-spacing:0.3px">hynny.</p>
</div>
</body></html>
